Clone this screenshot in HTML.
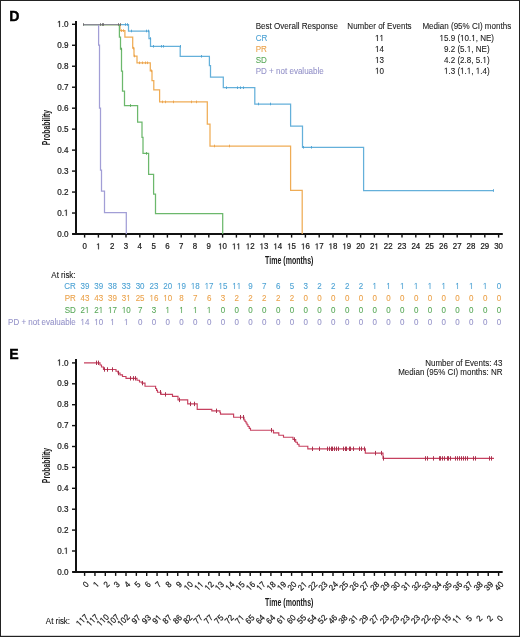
<!DOCTYPE html>
<html><head><meta charset="utf-8"><title>KM curves</title>
<style>
html,body{margin:0;padding:0;background:#fff;}
body{width:520px;height:637px;overflow:hidden;position:relative;font-family:"Liberation Sans", sans-serif;}
svg{position:absolute;left:0;top:0;will-change:transform;}
svg text{font-family:"Liberation Sans", sans-serif;stroke-width:0.08px;font-kerning:none;}
</style></head><body>
<svg width="520" height="637" viewBox="0 0 520 637">
<rect x="0" y="0" width="520" height="637" fill="#fff"/>
<rect x="0.5" y="0.5" width="519" height="636" fill="none" stroke="#222" stroke-width="1"/>
<rect x="0" y="635.8" width="520" height="1.2" fill="#222"/>

<text transform="translate(9.3,21.2) scale(0.93,1)" x="0" y="0" font-size="15.2" font-weight="bold" fill="#000" stroke="#000" style="stroke-width:0.4px">D</text>
<text transform="translate(9.2,359.3) scale(0.93,1)" x="0" y="0" font-size="15.2" font-weight="bold" fill="#000" stroke="#000" style="stroke-width:0.4px">E</text>
<line x1="76" y1="21" x2="76" y2="235.0" stroke="#111" stroke-width="2"/>
<line x1="72.2" y1="234.0" x2="502.8" y2="234.0" stroke="#111" stroke-width="2"/>
<line x1="72" y1="234.00" x2="76" y2="234.00" stroke="#111" stroke-width="1.4"/>
<text transform="translate(68.4,236.65) scale(1,1.08)" x="0" y="0" font-size="8.1" text-anchor="end" fill="#1a1a1a" stroke="#1a1a1a" style="stroke-width:0.2px">0.0</text>
<line x1="72" y1="213.03" x2="76" y2="213.03" stroke="#111" stroke-width="1.4"/>
<g transform="translate(68.4,215.68) scale(1,1.08)"><text x="0" y="0" font-size="8.1" text-anchor="end" fill="#1a1a1a" stroke="#1a1a1a" style="stroke-width:0.2px">0. </text><path transform="translate(-4.505,0) scale(0.003955,-0.003955)" d="M515 0V1237L197 1010V1180L530 1409H696V0Z" fill="#1a1a1a" stroke="#1a1a1a" stroke-width="50.6"/></g>
<line x1="72" y1="192.06" x2="76" y2="192.06" stroke="#111" stroke-width="1.4"/>
<text transform="translate(68.4,194.71) scale(1,1.08)" x="0" y="0" font-size="8.1" text-anchor="end" fill="#1a1a1a" stroke="#1a1a1a" style="stroke-width:0.2px">0.2</text>
<line x1="72" y1="171.09" x2="76" y2="171.09" stroke="#111" stroke-width="1.4"/>
<text transform="translate(68.4,173.74) scale(1,1.08)" x="0" y="0" font-size="8.1" text-anchor="end" fill="#1a1a1a" stroke="#1a1a1a" style="stroke-width:0.2px">0.3</text>
<line x1="72" y1="150.12" x2="76" y2="150.12" stroke="#111" stroke-width="1.4"/>
<text transform="translate(68.4,152.77) scale(1,1.08)" x="0" y="0" font-size="8.1" text-anchor="end" fill="#1a1a1a" stroke="#1a1a1a" style="stroke-width:0.2px">0.4</text>
<line x1="72" y1="129.15" x2="76" y2="129.15" stroke="#111" stroke-width="1.4"/>
<text transform="translate(68.4,131.80) scale(1,1.08)" x="0" y="0" font-size="8.1" text-anchor="end" fill="#1a1a1a" stroke="#1a1a1a" style="stroke-width:0.2px">0.5</text>
<line x1="72" y1="108.18" x2="76" y2="108.18" stroke="#111" stroke-width="1.4"/>
<text transform="translate(68.4,110.83) scale(1,1.08)" x="0" y="0" font-size="8.1" text-anchor="end" fill="#1a1a1a" stroke="#1a1a1a" style="stroke-width:0.2px">0.6</text>
<line x1="72" y1="87.21" x2="76" y2="87.21" stroke="#111" stroke-width="1.4"/>
<text transform="translate(68.4,89.86) scale(1,1.08)" x="0" y="0" font-size="8.1" text-anchor="end" fill="#1a1a1a" stroke="#1a1a1a" style="stroke-width:0.2px">0.7</text>
<line x1="72" y1="66.24" x2="76" y2="66.24" stroke="#111" stroke-width="1.4"/>
<text transform="translate(68.4,68.89) scale(1,1.08)" x="0" y="0" font-size="8.1" text-anchor="end" fill="#1a1a1a" stroke="#1a1a1a" style="stroke-width:0.2px">0.8</text>
<line x1="72" y1="45.27" x2="76" y2="45.27" stroke="#111" stroke-width="1.4"/>
<text transform="translate(68.4,47.92) scale(1,1.08)" x="0" y="0" font-size="8.1" text-anchor="end" fill="#1a1a1a" stroke="#1a1a1a" style="stroke-width:0.2px">0.9</text>
<line x1="72" y1="24.30" x2="76" y2="24.30" stroke="#111" stroke-width="1.4"/>
<g transform="translate(68.4,26.95) scale(1,1.08)"><text x="0" y="0" font-size="8.1" text-anchor="end" fill="#1a1a1a" stroke="#1a1a1a" style="stroke-width:0.2px"> .0</text><path transform="translate(-11.260,0) scale(0.003955,-0.003955)" d="M515 0V1237L197 1010V1180L530 1409H696V0Z" fill="#1a1a1a" stroke="#1a1a1a" stroke-width="50.6"/></g>
<line x1="84.60" y1="234.0" x2="84.60" y2="237.6" stroke="#111" stroke-width="1.4"/>
<line x1="98.40" y1="234.0" x2="98.40" y2="237.6" stroke="#111" stroke-width="1.4"/>
<line x1="112.20" y1="234.0" x2="112.20" y2="237.6" stroke="#111" stroke-width="1.4"/>
<line x1="126.00" y1="234.0" x2="126.00" y2="237.6" stroke="#111" stroke-width="1.4"/>
<line x1="139.80" y1="234.0" x2="139.80" y2="237.6" stroke="#111" stroke-width="1.4"/>
<line x1="153.60" y1="234.0" x2="153.60" y2="237.6" stroke="#111" stroke-width="1.4"/>
<line x1="167.40" y1="234.0" x2="167.40" y2="237.6" stroke="#111" stroke-width="1.4"/>
<line x1="181.20" y1="234.0" x2="181.20" y2="237.6" stroke="#111" stroke-width="1.4"/>
<line x1="195.00" y1="234.0" x2="195.00" y2="237.6" stroke="#111" stroke-width="1.4"/>
<line x1="208.80" y1="234.0" x2="208.80" y2="237.6" stroke="#111" stroke-width="1.4"/>
<line x1="222.60" y1="234.0" x2="222.60" y2="237.6" stroke="#111" stroke-width="1.4"/>
<line x1="236.40" y1="234.0" x2="236.40" y2="237.6" stroke="#111" stroke-width="1.4"/>
<line x1="250.20" y1="234.0" x2="250.20" y2="237.6" stroke="#111" stroke-width="1.4"/>
<line x1="264.00" y1="234.0" x2="264.00" y2="237.6" stroke="#111" stroke-width="1.4"/>
<line x1="277.80" y1="234.0" x2="277.80" y2="237.6" stroke="#111" stroke-width="1.4"/>
<line x1="291.60" y1="234.0" x2="291.60" y2="237.6" stroke="#111" stroke-width="1.4"/>
<line x1="305.40" y1="234.0" x2="305.40" y2="237.6" stroke="#111" stroke-width="1.4"/>
<line x1="319.20" y1="234.0" x2="319.20" y2="237.6" stroke="#111" stroke-width="1.4"/>
<line x1="333.00" y1="234.0" x2="333.00" y2="237.6" stroke="#111" stroke-width="1.4"/>
<line x1="346.80" y1="234.0" x2="346.80" y2="237.6" stroke="#111" stroke-width="1.4"/>
<line x1="360.60" y1="234.0" x2="360.60" y2="237.6" stroke="#111" stroke-width="1.4"/>
<line x1="374.40" y1="234.0" x2="374.40" y2="237.6" stroke="#111" stroke-width="1.4"/>
<line x1="388.20" y1="234.0" x2="388.20" y2="237.6" stroke="#111" stroke-width="1.4"/>
<line x1="402.00" y1="234.0" x2="402.00" y2="237.6" stroke="#111" stroke-width="1.4"/>
<line x1="415.80" y1="234.0" x2="415.80" y2="237.6" stroke="#111" stroke-width="1.4"/>
<line x1="429.60" y1="234.0" x2="429.60" y2="237.6" stroke="#111" stroke-width="1.4"/>
<line x1="443.40" y1="234.0" x2="443.40" y2="237.6" stroke="#111" stroke-width="1.4"/>
<line x1="457.20" y1="234.0" x2="457.20" y2="237.6" stroke="#111" stroke-width="1.4"/>
<line x1="471.00" y1="234.0" x2="471.00" y2="237.6" stroke="#111" stroke-width="1.4"/>
<line x1="484.80" y1="234.0" x2="484.80" y2="237.6" stroke="#111" stroke-width="1.4"/>
<line x1="498.60" y1="234.0" x2="498.60" y2="237.6" stroke="#111" stroke-width="1.4"/>
<text transform="translate(84.60,249.3) scale(1,1.08)" x="0" y="0" font-size="7.9" text-anchor="middle" fill="#1a1a1a" stroke="#1a1a1a" style="stroke-width:0.2px">0</text>
<g transform="translate(98.40,249.3) scale(1,1.08)"><text x="0" y="0" font-size="7.9" text-anchor="middle" fill="#1a1a1a" stroke="#1a1a1a" style="stroke-width:0.2px"> </text><path transform="translate(-2.197,0) scale(0.003857,-0.003857)" d="M515 0V1237L197 1010V1180L530 1409H696V0Z" fill="#1a1a1a" stroke="#1a1a1a" stroke-width="51.8"/></g>
<text transform="translate(112.20,249.3) scale(1,1.08)" x="0" y="0" font-size="7.9" text-anchor="middle" fill="#1a1a1a" stroke="#1a1a1a" style="stroke-width:0.2px">2</text>
<text transform="translate(126.00,249.3) scale(1,1.08)" x="0" y="0" font-size="7.9" text-anchor="middle" fill="#1a1a1a" stroke="#1a1a1a" style="stroke-width:0.2px">3</text>
<text transform="translate(139.80,249.3) scale(1,1.08)" x="0" y="0" font-size="7.9" text-anchor="middle" fill="#1a1a1a" stroke="#1a1a1a" style="stroke-width:0.2px">4</text>
<text transform="translate(153.60,249.3) scale(1,1.08)" x="0" y="0" font-size="7.9" text-anchor="middle" fill="#1a1a1a" stroke="#1a1a1a" style="stroke-width:0.2px">5</text>
<text transform="translate(167.40,249.3) scale(1,1.08)" x="0" y="0" font-size="7.9" text-anchor="middle" fill="#1a1a1a" stroke="#1a1a1a" style="stroke-width:0.2px">6</text>
<text transform="translate(181.20,249.3) scale(1,1.08)" x="0" y="0" font-size="7.9" text-anchor="middle" fill="#1a1a1a" stroke="#1a1a1a" style="stroke-width:0.2px">7</text>
<text transform="translate(195.00,249.3) scale(1,1.08)" x="0" y="0" font-size="7.9" text-anchor="middle" fill="#1a1a1a" stroke="#1a1a1a" style="stroke-width:0.2px">8</text>
<text transform="translate(208.80,249.3) scale(1,1.08)" x="0" y="0" font-size="7.9" text-anchor="middle" fill="#1a1a1a" stroke="#1a1a1a" style="stroke-width:0.2px">9</text>
<g transform="translate(222.60,249.3) scale(1,1.08)"><text x="0" y="0" font-size="7.9" text-anchor="middle" fill="#1a1a1a" stroke="#1a1a1a" style="stroke-width:0.2px"> 0</text><path transform="translate(-4.394,0) scale(0.003857,-0.003857)" d="M515 0V1237L197 1010V1180L530 1409H696V0Z" fill="#1a1a1a" stroke="#1a1a1a" stroke-width="51.8"/></g>
<g transform="translate(236.40,249.3) scale(1,1.08)"><text x="0" y="0" font-size="7.9" text-anchor="middle" fill="#1a1a1a" stroke="#1a1a1a" style="stroke-width:0.2px">  </text><path transform="translate(-4.394,0) scale(0.003857,-0.003857)" d="M515 0V1237L197 1010V1180L530 1409H696V0Z" fill="#1a1a1a" stroke="#1a1a1a" stroke-width="51.8"/><path transform="translate(0.000,0) scale(0.003857,-0.003857)" d="M515 0V1237L197 1010V1180L530 1409H696V0Z" fill="#1a1a1a" stroke="#1a1a1a" stroke-width="51.8"/></g>
<g transform="translate(250.20,249.3) scale(1,1.08)"><text x="0" y="0" font-size="7.9" text-anchor="middle" fill="#1a1a1a" stroke="#1a1a1a" style="stroke-width:0.2px"> 2</text><path transform="translate(-4.394,0) scale(0.003857,-0.003857)" d="M515 0V1237L197 1010V1180L530 1409H696V0Z" fill="#1a1a1a" stroke="#1a1a1a" stroke-width="51.8"/></g>
<g transform="translate(264.00,249.3) scale(1,1.08)"><text x="0" y="0" font-size="7.9" text-anchor="middle" fill="#1a1a1a" stroke="#1a1a1a" style="stroke-width:0.2px"> 3</text><path transform="translate(-4.394,0) scale(0.003857,-0.003857)" d="M515 0V1237L197 1010V1180L530 1409H696V0Z" fill="#1a1a1a" stroke="#1a1a1a" stroke-width="51.8"/></g>
<g transform="translate(277.80,249.3) scale(1,1.08)"><text x="0" y="0" font-size="7.9" text-anchor="middle" fill="#1a1a1a" stroke="#1a1a1a" style="stroke-width:0.2px"> 4</text><path transform="translate(-4.394,0) scale(0.003857,-0.003857)" d="M515 0V1237L197 1010V1180L530 1409H696V0Z" fill="#1a1a1a" stroke="#1a1a1a" stroke-width="51.8"/></g>
<g transform="translate(291.60,249.3) scale(1,1.08)"><text x="0" y="0" font-size="7.9" text-anchor="middle" fill="#1a1a1a" stroke="#1a1a1a" style="stroke-width:0.2px"> 5</text><path transform="translate(-4.394,0) scale(0.003857,-0.003857)" d="M515 0V1237L197 1010V1180L530 1409H696V0Z" fill="#1a1a1a" stroke="#1a1a1a" stroke-width="51.8"/></g>
<g transform="translate(305.40,249.3) scale(1,1.08)"><text x="0" y="0" font-size="7.9" text-anchor="middle" fill="#1a1a1a" stroke="#1a1a1a" style="stroke-width:0.2px"> 6</text><path transform="translate(-4.394,0) scale(0.003857,-0.003857)" d="M515 0V1237L197 1010V1180L530 1409H696V0Z" fill="#1a1a1a" stroke="#1a1a1a" stroke-width="51.8"/></g>
<g transform="translate(319.20,249.3) scale(1,1.08)"><text x="0" y="0" font-size="7.9" text-anchor="middle" fill="#1a1a1a" stroke="#1a1a1a" style="stroke-width:0.2px"> 7</text><path transform="translate(-4.394,0) scale(0.003857,-0.003857)" d="M515 0V1237L197 1010V1180L530 1409H696V0Z" fill="#1a1a1a" stroke="#1a1a1a" stroke-width="51.8"/></g>
<g transform="translate(333.00,249.3) scale(1,1.08)"><text x="0" y="0" font-size="7.9" text-anchor="middle" fill="#1a1a1a" stroke="#1a1a1a" style="stroke-width:0.2px"> 8</text><path transform="translate(-4.394,0) scale(0.003857,-0.003857)" d="M515 0V1237L197 1010V1180L530 1409H696V0Z" fill="#1a1a1a" stroke="#1a1a1a" stroke-width="51.8"/></g>
<g transform="translate(346.80,249.3) scale(1,1.08)"><text x="0" y="0" font-size="7.9" text-anchor="middle" fill="#1a1a1a" stroke="#1a1a1a" style="stroke-width:0.2px"> 9</text><path transform="translate(-4.394,0) scale(0.003857,-0.003857)" d="M515 0V1237L197 1010V1180L530 1409H696V0Z" fill="#1a1a1a" stroke="#1a1a1a" stroke-width="51.8"/></g>
<text transform="translate(360.60,249.3) scale(1,1.08)" x="0" y="0" font-size="7.9" text-anchor="middle" fill="#1a1a1a" stroke="#1a1a1a" style="stroke-width:0.2px">20</text>
<g transform="translate(374.40,249.3) scale(1,1.08)"><text x="0" y="0" font-size="7.9" text-anchor="middle" fill="#1a1a1a" stroke="#1a1a1a" style="stroke-width:0.2px">2 </text><path transform="translate(0.000,0) scale(0.003857,-0.003857)" d="M515 0V1237L197 1010V1180L530 1409H696V0Z" fill="#1a1a1a" stroke="#1a1a1a" stroke-width="51.8"/></g>
<text transform="translate(388.20,249.3) scale(1,1.08)" x="0" y="0" font-size="7.9" text-anchor="middle" fill="#1a1a1a" stroke="#1a1a1a" style="stroke-width:0.2px">22</text>
<text transform="translate(402.00,249.3) scale(1,1.08)" x="0" y="0" font-size="7.9" text-anchor="middle" fill="#1a1a1a" stroke="#1a1a1a" style="stroke-width:0.2px">23</text>
<text transform="translate(415.80,249.3) scale(1,1.08)" x="0" y="0" font-size="7.9" text-anchor="middle" fill="#1a1a1a" stroke="#1a1a1a" style="stroke-width:0.2px">24</text>
<text transform="translate(429.60,249.3) scale(1,1.08)" x="0" y="0" font-size="7.9" text-anchor="middle" fill="#1a1a1a" stroke="#1a1a1a" style="stroke-width:0.2px">25</text>
<text transform="translate(443.40,249.3) scale(1,1.08)" x="0" y="0" font-size="7.9" text-anchor="middle" fill="#1a1a1a" stroke="#1a1a1a" style="stroke-width:0.2px">26</text>
<text transform="translate(457.20,249.3) scale(1,1.08)" x="0" y="0" font-size="7.9" text-anchor="middle" fill="#1a1a1a" stroke="#1a1a1a" style="stroke-width:0.2px">27</text>
<text transform="translate(471.00,249.3) scale(1,1.08)" x="0" y="0" font-size="7.9" text-anchor="middle" fill="#1a1a1a" stroke="#1a1a1a" style="stroke-width:0.2px">28</text>
<text transform="translate(484.80,249.3) scale(1,1.08)" x="0" y="0" font-size="7.9" text-anchor="middle" fill="#1a1a1a" stroke="#1a1a1a" style="stroke-width:0.2px">29</text>
<text transform="translate(498.60,249.3) scale(1,1.08)" x="0" y="0" font-size="7.9" text-anchor="middle" fill="#1a1a1a" stroke="#1a1a1a" style="stroke-width:0.2px">30</text>
<text transform="translate(289.2,264.3) scale(0.683,1)" x="0" y="0" font-size="10.3" font-weight="bold" text-anchor="middle" fill="#1a1a1a" stroke="#1a1a1a" style="stroke-width:0px">Time (months)</text>
<text transform="translate(49.6,127.5) rotate(-90) scale(0.645,1)" x="0" y="0" font-size="10.6" font-weight="bold" text-anchor="middle" fill="#1a1a1a" stroke="#1a1a1a" style="stroke-width:0px">Probability</text>
<path d="M83.5,24.5 H128.5 V31 H149 V38.5 H150.5 V46.3 H180.2 V56.3 H209.4 V65.6 H210.5 V77.1 H223.3 V87.7 H254.8 V104 H290.6 V126.2 H302.5 V147.3 H363.6 V190.5 H493.3" fill="none" stroke="#64b0da" stroke-width="1.25"/>
<path d="M83.5,24.5 H120 V30.6 H124.9 V37.2 H132.7 V48.2 H134 V56 H137 V62.8 H150.3 V70.8 H152 V80.7 H153.8 V89.8 H159.6 V101.9 H207.3 V124 H210 V146 H290.6 V190.4 H302.2 V234" fill="none" stroke="#efac55" stroke-width="1.25"/>
<path d="M83.5,24.5 H119.4 V37.2 H120.5 V49 H121.5 V71 H122.5 V91 H124.5 V105.5 H137.6 V122 H142 V137.4 H143 V153.4 H148.6 V174.3 H153.6 V194 H155.5 V213.7 H222.7 V234" fill="none" stroke="#6cb86c" stroke-width="1.25"/>
<path d="M83.5,24.5 H98.6 V45 H99.5 V108 H100.5 V170 H101.5 V191 H104.5 V212.5 H126.3 V234" fill="none" stroke="#a29ed6" stroke-width="1.25"/>
<line x1="83.5" y1="24.5" x2="120" y2="24.5" stroke="#8a8a94" stroke-width="1.2"/>
<line x1="83.5" y1="23.20" x2="83.5" y2="25.80" stroke="#6a6a6a" stroke-width="0.9"/><line x1="100.5" y1="23.20" x2="100.5" y2="25.80" stroke="#6a6a6a" stroke-width="0.9"/><line x1="102.5" y1="23.20" x2="102.5" y2="25.80" stroke="#6a6a6a" stroke-width="0.9"/><line x1="103.5" y1="23.20" x2="103.5" y2="25.80" stroke="#6a6a6a" stroke-width="0.9"/><line x1="118.5" y1="23.20" x2="118.5" y2="25.80" stroke="#6a6a6a" stroke-width="0.9"/><line x1="120.5" y1="23.20" x2="120.5" y2="25.80" stroke="#6a6a6a" stroke-width="0.9"/>
<line x1="125.5" y1="23.20" x2="125.5" y2="25.80" stroke="#4ca2d4" stroke-width="0.9"/><line x1="127.5" y1="23.20" x2="127.5" y2="25.80" stroke="#4ca2d4" stroke-width="0.9"/><line x1="131.5" y1="29.70" x2="131.5" y2="32.30" stroke="#4ca2d4" stroke-width="0.9"/><line x1="146.5" y1="29.70" x2="146.5" y2="32.30" stroke="#4ca2d4" stroke-width="0.9"/><line x1="148.5" y1="29.70" x2="148.5" y2="32.30" stroke="#4ca2d4" stroke-width="0.9"/><line x1="150.5" y1="37.20" x2="150.5" y2="39.80" stroke="#4ca2d4" stroke-width="0.9"/><line x1="153.5" y1="45.00" x2="153.5" y2="47.60" stroke="#4ca2d4" stroke-width="0.9"/><line x1="161.5" y1="45.00" x2="161.5" y2="47.60" stroke="#4ca2d4" stroke-width="0.9"/><line x1="163.5" y1="45.00" x2="163.5" y2="47.60" stroke="#4ca2d4" stroke-width="0.9"/><line x1="180.5" y1="45.00" x2="180.5" y2="47.60" stroke="#4ca2d4" stroke-width="0.9"/><line x1="201.5" y1="55.00" x2="201.5" y2="57.60" stroke="#4ca2d4" stroke-width="0.9"/><line x1="226.5" y1="86.40" x2="226.5" y2="89.00" stroke="#4ca2d4" stroke-width="0.9"/><line x1="237.5" y1="86.40" x2="237.5" y2="89.00" stroke="#4ca2d4" stroke-width="0.9"/><line x1="240.5" y1="86.40" x2="240.5" y2="89.00" stroke="#4ca2d4" stroke-width="0.9"/><line x1="243.5" y1="86.40" x2="243.5" y2="89.00" stroke="#4ca2d4" stroke-width="0.9"/><line x1="258.5" y1="102.70" x2="258.5" y2="105.30" stroke="#4ca2d4" stroke-width="0.9"/><line x1="270.5" y1="102.70" x2="270.5" y2="105.30" stroke="#4ca2d4" stroke-width="0.9"/><line x1="303.5" y1="146.00" x2="303.5" y2="148.60" stroke="#4ca2d4" stroke-width="0.9"/><line x1="311.5" y1="146.00" x2="311.5" y2="148.60" stroke="#4ca2d4" stroke-width="0.9"/><line x1="493.5" y1="189.20" x2="493.5" y2="191.80" stroke="#4ca2d4" stroke-width="0.9"/>
<line x1="121.5" y1="29.30" x2="121.5" y2="31.90" stroke="#eba24a" stroke-width="0.9"/><line x1="123.5" y1="29.30" x2="123.5" y2="31.90" stroke="#eba24a" stroke-width="0.9"/><line x1="133.5" y1="46.90" x2="133.5" y2="49.50" stroke="#eba24a" stroke-width="0.9"/><line x1="134.5" y1="54.70" x2="134.5" y2="57.30" stroke="#eba24a" stroke-width="0.9"/><line x1="139.5" y1="61.50" x2="139.5" y2="64.10" stroke="#eba24a" stroke-width="0.9"/><line x1="142.5" y1="61.50" x2="142.5" y2="64.10" stroke="#eba24a" stroke-width="0.9"/><line x1="145.5" y1="61.50" x2="145.5" y2="64.10" stroke="#eba24a" stroke-width="0.9"/><line x1="147.5" y1="61.50" x2="147.5" y2="64.10" stroke="#eba24a" stroke-width="0.9"/><line x1="151.5" y1="69.50" x2="151.5" y2="72.10" stroke="#eba24a" stroke-width="0.9"/><line x1="162.5" y1="100.60" x2="162.5" y2="103.20" stroke="#eba24a" stroke-width="0.9"/><line x1="165.5" y1="100.60" x2="165.5" y2="103.20" stroke="#eba24a" stroke-width="0.9"/><line x1="173.5" y1="100.60" x2="173.5" y2="103.20" stroke="#eba24a" stroke-width="0.9"/><line x1="191.5" y1="100.60" x2="191.5" y2="103.20" stroke="#eba24a" stroke-width="0.9"/><line x1="196.5" y1="100.60" x2="196.5" y2="103.20" stroke="#eba24a" stroke-width="0.9"/><line x1="214.5" y1="144.70" x2="214.5" y2="147.30" stroke="#eba24a" stroke-width="0.9"/><line x1="229.5" y1="144.70" x2="229.5" y2="147.30" stroke="#eba24a" stroke-width="0.9"/>
<line x1="121.5" y1="47.70" x2="121.5" y2="50.30" stroke="#58a858" stroke-width="0.9"/><line x1="130.5" y1="104.20" x2="130.5" y2="106.80" stroke="#58a858" stroke-width="0.9"/><line x1="146.5" y1="152.10" x2="146.5" y2="154.70" stroke="#58a858" stroke-width="0.9"/>
<text transform="translate(255.7,29.2) scale(1,1.08)" x="0" y="0" font-size="8.05" fill="#1a1a1a" stroke="#1a1a1a">Best Overall Response</text>
<text transform="translate(379.5,29.2) scale(1,1.08)" x="0" y="0" font-size="8.05" text-anchor="middle" fill="#1a1a1a" stroke="#1a1a1a">Number of Events</text>
<text transform="translate(466.8,29.2) scale(1,1.08)" x="0" y="0" font-size="8.05" text-anchor="middle" fill="#1a1a1a" stroke="#1a1a1a">Median (95% CI) months</text>
<text transform="translate(255.7,41.00) scale(1,1.08)" x="0" y="0" font-size="8.05" fill="#4ca2d4" stroke="#4ca2d4">CR</text>
<g transform="translate(379.5,41.00) scale(1,1.08)"><text x="0" y="0" font-size="8.05" text-anchor="middle" fill="#1a1a1a" stroke="#1a1a1a">  </text><path transform="translate(-4.477,0) scale(0.003931,-0.003931)" d="M515 0V1237L197 1010V1180L530 1409H696V0Z" fill="#1a1a1a" stroke="#1a1a1a" stroke-width="20.4"/><path transform="translate(0.000,0) scale(0.003931,-0.003931)" d="M515 0V1237L197 1010V1180L530 1409H696V0Z" fill="#1a1a1a" stroke="#1a1a1a" stroke-width="20.4"/></g>
<g transform="translate(466.8,41.00) scale(1,1.08)"><text x="0" y="0" font-size="8.05" text-anchor="middle" fill="#1a1a1a" stroke="#1a1a1a"> 5.9 ( 0. , NE)</text><path transform="translate(-27.295,0) scale(0.003931,-0.003931)" d="M515 0V1237L197 1010V1180L530 1409H696V0Z" fill="#1a1a1a" stroke="#1a1a1a" stroke-width="20.4"/><path transform="translate(-6.710,0) scale(0.003931,-0.003931)" d="M515 0V1237L197 1010V1180L530 1409H696V0Z" fill="#1a1a1a" stroke="#1a1a1a" stroke-width="20.4"/><path transform="translate(4.481,0) scale(0.003931,-0.003931)" d="M515 0V1237L197 1010V1180L530 1409H696V0Z" fill="#1a1a1a" stroke="#1a1a1a" stroke-width="20.4"/></g>
<text transform="translate(255.7,51.95) scale(1,1.08)" x="0" y="0" font-size="8.05" fill="#eba24a" stroke="#eba24a">PR</text>
<g transform="translate(379.5,51.95) scale(1,1.08)"><text x="0" y="0" font-size="8.05" text-anchor="middle" fill="#1a1a1a" stroke="#1a1a1a"> 4</text><path transform="translate(-4.477,0) scale(0.003931,-0.003931)" d="M515 0V1237L197 1010V1180L530 1409H696V0Z" fill="#1a1a1a" stroke="#1a1a1a" stroke-width="20.4"/></g>
<g transform="translate(466.8,51.95) scale(1,1.08)"><text x="0" y="0" font-size="8.05" text-anchor="middle" fill="#1a1a1a" stroke="#1a1a1a">9.2 (5. , NE)</text><path transform="translate(0.004,0) scale(0.003931,-0.003931)" d="M515 0V1237L197 1010V1180L530 1409H696V0Z" fill="#1a1a1a" stroke="#1a1a1a" stroke-width="20.4"/></g>
<text transform="translate(255.7,62.90) scale(1,1.08)" x="0" y="0" font-size="8.05" fill="#58a858" stroke="#58a858">SD</text>
<g transform="translate(379.5,62.90) scale(1,1.08)"><text x="0" y="0" font-size="8.05" text-anchor="middle" fill="#1a1a1a" stroke="#1a1a1a"> 3</text><path transform="translate(-4.477,0) scale(0.003931,-0.003931)" d="M515 0V1237L197 1010V1180L530 1409H696V0Z" fill="#1a1a1a" stroke="#1a1a1a" stroke-width="20.4"/></g>
<g transform="translate(466.8,62.90) scale(1,1.08)"><text x="0" y="0" font-size="8.05" text-anchor="middle" fill="#1a1a1a" stroke="#1a1a1a">4.2 (2.8, 5. )</text><path transform="translate(15.664,0) scale(0.003931,-0.003931)" d="M515 0V1237L197 1010V1180L530 1409H696V0Z" fill="#1a1a1a" stroke="#1a1a1a" stroke-width="20.4"/></g>
<text transform="translate(255.7,73.85) scale(1,1.08)" x="0" y="0" font-size="8.05" fill="#9593c9" stroke="#9593c9">PD + not evaluable</text>
<g transform="translate(379.5,73.85) scale(1,1.08)"><text x="0" y="0" font-size="8.05" text-anchor="middle" fill="#1a1a1a" stroke="#1a1a1a"> 0</text><path transform="translate(-4.477,0) scale(0.003931,-0.003931)" d="M515 0V1237L197 1010V1180L530 1409H696V0Z" fill="#1a1a1a" stroke="#1a1a1a" stroke-width="20.4"/></g>
<g transform="translate(466.8,73.85) scale(1,1.08)"><text x="0" y="0" font-size="8.05" text-anchor="middle" fill="#1a1a1a" stroke="#1a1a1a"> .3 ( . ,  .4)</text><path transform="translate(-22.821,0) scale(0.003931,-0.003931)" d="M515 0V1237L197 1010V1180L530 1409H696V0Z" fill="#1a1a1a" stroke="#1a1a1a" stroke-width="20.4"/><path transform="translate(-6.714,0) scale(0.003931,-0.003931)" d="M515 0V1237L197 1010V1180L530 1409H696V0Z" fill="#1a1a1a" stroke="#1a1a1a" stroke-width="20.4"/><path transform="translate(0.000,0) scale(0.003931,-0.003931)" d="M515 0V1237L197 1010V1180L530 1409H696V0Z" fill="#1a1a1a" stroke="#1a1a1a" stroke-width="20.4"/><path transform="translate(8.950,0) scale(0.003931,-0.003931)" d="M515 0V1237L197 1010V1180L530 1409H696V0Z" fill="#1a1a1a" stroke="#1a1a1a" stroke-width="20.4"/></g>
<text transform="translate(75.5,278.4) scale(1,1.08)" x="0" y="0" font-size="7.9" text-anchor="end" fill="#111" stroke="#111">At risk:</text>
<text transform="translate(75.8,288.90) scale(1,1.08)" x="0" y="0" font-size="8.0" text-anchor="end" fill="#4ca2d4" stroke="#4ca2d4">CR</text>
<text transform="translate(84.90,288.90) scale(1,1.08)" x="0" y="0" font-size="8.0" text-anchor="middle" fill="#4ca2d4" stroke="#4ca2d4">39</text><text transform="translate(98.70,288.90) scale(1,1.08)" x="0" y="0" font-size="8.0" text-anchor="middle" fill="#4ca2d4" stroke="#4ca2d4">39</text><text transform="translate(112.50,288.90) scale(1,1.08)" x="0" y="0" font-size="8.0" text-anchor="middle" fill="#4ca2d4" stroke="#4ca2d4">38</text><text transform="translate(126.30,288.90) scale(1,1.08)" x="0" y="0" font-size="8.0" text-anchor="middle" fill="#4ca2d4" stroke="#4ca2d4">33</text><text transform="translate(140.10,288.90) scale(1,1.08)" x="0" y="0" font-size="8.0" text-anchor="middle" fill="#4ca2d4" stroke="#4ca2d4">30</text><text transform="translate(153.90,288.90) scale(1,1.08)" x="0" y="0" font-size="8.0" text-anchor="middle" fill="#4ca2d4" stroke="#4ca2d4">23</text><text transform="translate(167.70,288.90) scale(1,1.08)" x="0" y="0" font-size="8.0" text-anchor="middle" fill="#4ca2d4" stroke="#4ca2d4">20</text><g transform="translate(181.50,288.90) scale(1,1.08)"><text x="0" y="0" font-size="8.0" text-anchor="middle" fill="#4ca2d4" stroke="#4ca2d4"> 9</text><path transform="translate(-4.449,0) scale(0.003906,-0.003906)" d="M515 0V1237L197 1010V1180L530 1409H696V0Z" fill="#4ca2d4" stroke="#4ca2d4" stroke-width="20.5"/></g><g transform="translate(195.30,288.90) scale(1,1.08)"><text x="0" y="0" font-size="8.0" text-anchor="middle" fill="#4ca2d4" stroke="#4ca2d4"> 8</text><path transform="translate(-4.449,0) scale(0.003906,-0.003906)" d="M515 0V1237L197 1010V1180L530 1409H696V0Z" fill="#4ca2d4" stroke="#4ca2d4" stroke-width="20.5"/></g><g transform="translate(209.10,288.90) scale(1,1.08)"><text x="0" y="0" font-size="8.0" text-anchor="middle" fill="#4ca2d4" stroke="#4ca2d4"> 7</text><path transform="translate(-4.449,0) scale(0.003906,-0.003906)" d="M515 0V1237L197 1010V1180L530 1409H696V0Z" fill="#4ca2d4" stroke="#4ca2d4" stroke-width="20.5"/></g><g transform="translate(222.90,288.90) scale(1,1.08)"><text x="0" y="0" font-size="8.0" text-anchor="middle" fill="#4ca2d4" stroke="#4ca2d4"> 5</text><path transform="translate(-4.449,0) scale(0.003906,-0.003906)" d="M515 0V1237L197 1010V1180L530 1409H696V0Z" fill="#4ca2d4" stroke="#4ca2d4" stroke-width="20.5"/></g><g transform="translate(236.70,288.90) scale(1,1.08)"><text x="0" y="0" font-size="8.0" text-anchor="middle" fill="#4ca2d4" stroke="#4ca2d4">  </text><path transform="translate(-4.449,0) scale(0.003906,-0.003906)" d="M515 0V1237L197 1010V1180L530 1409H696V0Z" fill="#4ca2d4" stroke="#4ca2d4" stroke-width="20.5"/><path transform="translate(0.000,0) scale(0.003906,-0.003906)" d="M515 0V1237L197 1010V1180L530 1409H696V0Z" fill="#4ca2d4" stroke="#4ca2d4" stroke-width="20.5"/></g><text transform="translate(250.50,288.90) scale(1,1.08)" x="0" y="0" font-size="8.0" text-anchor="middle" fill="#4ca2d4" stroke="#4ca2d4">9</text><text transform="translate(264.30,288.90) scale(1,1.08)" x="0" y="0" font-size="8.0" text-anchor="middle" fill="#4ca2d4" stroke="#4ca2d4">7</text><text transform="translate(278.10,288.90) scale(1,1.08)" x="0" y="0" font-size="8.0" text-anchor="middle" fill="#4ca2d4" stroke="#4ca2d4">6</text><text transform="translate(291.90,288.90) scale(1,1.08)" x="0" y="0" font-size="8.0" text-anchor="middle" fill="#4ca2d4" stroke="#4ca2d4">5</text><text transform="translate(305.70,288.90) scale(1,1.08)" x="0" y="0" font-size="8.0" text-anchor="middle" fill="#4ca2d4" stroke="#4ca2d4">3</text><text transform="translate(319.50,288.90) scale(1,1.08)" x="0" y="0" font-size="8.0" text-anchor="middle" fill="#4ca2d4" stroke="#4ca2d4">2</text><text transform="translate(333.30,288.90) scale(1,1.08)" x="0" y="0" font-size="8.0" text-anchor="middle" fill="#4ca2d4" stroke="#4ca2d4">2</text><text transform="translate(347.10,288.90) scale(1,1.08)" x="0" y="0" font-size="8.0" text-anchor="middle" fill="#4ca2d4" stroke="#4ca2d4">2</text><text transform="translate(360.90,288.90) scale(1,1.08)" x="0" y="0" font-size="8.0" text-anchor="middle" fill="#4ca2d4" stroke="#4ca2d4">2</text><g transform="translate(374.70,288.90) scale(1,1.08)"><text x="0" y="0" font-size="8.0" text-anchor="middle" fill="#4ca2d4" stroke="#4ca2d4"> </text><path transform="translate(-2.225,0) scale(0.003906,-0.003906)" d="M515 0V1237L197 1010V1180L530 1409H696V0Z" fill="#4ca2d4" stroke="#4ca2d4" stroke-width="20.5"/></g><g transform="translate(388.50,288.90) scale(1,1.08)"><text x="0" y="0" font-size="8.0" text-anchor="middle" fill="#4ca2d4" stroke="#4ca2d4"> </text><path transform="translate(-2.225,0) scale(0.003906,-0.003906)" d="M515 0V1237L197 1010V1180L530 1409H696V0Z" fill="#4ca2d4" stroke="#4ca2d4" stroke-width="20.5"/></g><g transform="translate(402.30,288.90) scale(1,1.08)"><text x="0" y="0" font-size="8.0" text-anchor="middle" fill="#4ca2d4" stroke="#4ca2d4"> </text><path transform="translate(-2.225,0) scale(0.003906,-0.003906)" d="M515 0V1237L197 1010V1180L530 1409H696V0Z" fill="#4ca2d4" stroke="#4ca2d4" stroke-width="20.5"/></g><g transform="translate(416.10,288.90) scale(1,1.08)"><text x="0" y="0" font-size="8.0" text-anchor="middle" fill="#4ca2d4" stroke="#4ca2d4"> </text><path transform="translate(-2.225,0) scale(0.003906,-0.003906)" d="M515 0V1237L197 1010V1180L530 1409H696V0Z" fill="#4ca2d4" stroke="#4ca2d4" stroke-width="20.5"/></g><g transform="translate(429.90,288.90) scale(1,1.08)"><text x="0" y="0" font-size="8.0" text-anchor="middle" fill="#4ca2d4" stroke="#4ca2d4"> </text><path transform="translate(-2.225,0) scale(0.003906,-0.003906)" d="M515 0V1237L197 1010V1180L530 1409H696V0Z" fill="#4ca2d4" stroke="#4ca2d4" stroke-width="20.5"/></g><g transform="translate(443.70,288.90) scale(1,1.08)"><text x="0" y="0" font-size="8.0" text-anchor="middle" fill="#4ca2d4" stroke="#4ca2d4"> </text><path transform="translate(-2.225,0) scale(0.003906,-0.003906)" d="M515 0V1237L197 1010V1180L530 1409H696V0Z" fill="#4ca2d4" stroke="#4ca2d4" stroke-width="20.5"/></g><g transform="translate(457.50,288.90) scale(1,1.08)"><text x="0" y="0" font-size="8.0" text-anchor="middle" fill="#4ca2d4" stroke="#4ca2d4"> </text><path transform="translate(-2.225,0) scale(0.003906,-0.003906)" d="M515 0V1237L197 1010V1180L530 1409H696V0Z" fill="#4ca2d4" stroke="#4ca2d4" stroke-width="20.5"/></g><g transform="translate(471.30,288.90) scale(1,1.08)"><text x="0" y="0" font-size="8.0" text-anchor="middle" fill="#4ca2d4" stroke="#4ca2d4"> </text><path transform="translate(-2.225,0) scale(0.003906,-0.003906)" d="M515 0V1237L197 1010V1180L530 1409H696V0Z" fill="#4ca2d4" stroke="#4ca2d4" stroke-width="20.5"/></g><g transform="translate(485.10,288.90) scale(1,1.08)"><text x="0" y="0" font-size="8.0" text-anchor="middle" fill="#4ca2d4" stroke="#4ca2d4"> </text><path transform="translate(-2.225,0) scale(0.003906,-0.003906)" d="M515 0V1237L197 1010V1180L530 1409H696V0Z" fill="#4ca2d4" stroke="#4ca2d4" stroke-width="20.5"/></g><text transform="translate(498.90,288.90) scale(1,1.08)" x="0" y="0" font-size="8.0" text-anchor="middle" fill="#4ca2d4" stroke="#4ca2d4">0</text>
<text transform="translate(75.8,300.93) scale(1,1.08)" x="0" y="0" font-size="8.0" text-anchor="end" fill="#eba24a" stroke="#eba24a">PR</text>
<text transform="translate(84.90,300.93) scale(1,1.08)" x="0" y="0" font-size="8.0" text-anchor="middle" fill="#eba24a" stroke="#eba24a">43</text><text transform="translate(98.70,300.93) scale(1,1.08)" x="0" y="0" font-size="8.0" text-anchor="middle" fill="#eba24a" stroke="#eba24a">43</text><text transform="translate(112.50,300.93) scale(1,1.08)" x="0" y="0" font-size="8.0" text-anchor="middle" fill="#eba24a" stroke="#eba24a">39</text><g transform="translate(126.30,300.93) scale(1,1.08)"><text x="0" y="0" font-size="8.0" text-anchor="middle" fill="#eba24a" stroke="#eba24a">3 </text><path transform="translate(0.000,0) scale(0.003906,-0.003906)" d="M515 0V1237L197 1010V1180L530 1409H696V0Z" fill="#eba24a" stroke="#eba24a" stroke-width="20.5"/></g><text transform="translate(140.10,300.93) scale(1,1.08)" x="0" y="0" font-size="8.0" text-anchor="middle" fill="#eba24a" stroke="#eba24a">25</text><g transform="translate(153.90,300.93) scale(1,1.08)"><text x="0" y="0" font-size="8.0" text-anchor="middle" fill="#eba24a" stroke="#eba24a"> 6</text><path transform="translate(-4.449,0) scale(0.003906,-0.003906)" d="M515 0V1237L197 1010V1180L530 1409H696V0Z" fill="#eba24a" stroke="#eba24a" stroke-width="20.5"/></g><g transform="translate(167.70,300.93) scale(1,1.08)"><text x="0" y="0" font-size="8.0" text-anchor="middle" fill="#eba24a" stroke="#eba24a"> 0</text><path transform="translate(-4.449,0) scale(0.003906,-0.003906)" d="M515 0V1237L197 1010V1180L530 1409H696V0Z" fill="#eba24a" stroke="#eba24a" stroke-width="20.5"/></g><text transform="translate(181.50,300.93) scale(1,1.08)" x="0" y="0" font-size="8.0" text-anchor="middle" fill="#eba24a" stroke="#eba24a">8</text><text transform="translate(195.30,300.93) scale(1,1.08)" x="0" y="0" font-size="8.0" text-anchor="middle" fill="#eba24a" stroke="#eba24a">7</text><text transform="translate(209.10,300.93) scale(1,1.08)" x="0" y="0" font-size="8.0" text-anchor="middle" fill="#eba24a" stroke="#eba24a">6</text><text transform="translate(222.90,300.93) scale(1,1.08)" x="0" y="0" font-size="8.0" text-anchor="middle" fill="#eba24a" stroke="#eba24a">3</text><text transform="translate(236.70,300.93) scale(1,1.08)" x="0" y="0" font-size="8.0" text-anchor="middle" fill="#eba24a" stroke="#eba24a">2</text><text transform="translate(250.50,300.93) scale(1,1.08)" x="0" y="0" font-size="8.0" text-anchor="middle" fill="#eba24a" stroke="#eba24a">2</text><text transform="translate(264.30,300.93) scale(1,1.08)" x="0" y="0" font-size="8.0" text-anchor="middle" fill="#eba24a" stroke="#eba24a">2</text><text transform="translate(278.10,300.93) scale(1,1.08)" x="0" y="0" font-size="8.0" text-anchor="middle" fill="#eba24a" stroke="#eba24a">2</text><text transform="translate(291.90,300.93) scale(1,1.08)" x="0" y="0" font-size="8.0" text-anchor="middle" fill="#eba24a" stroke="#eba24a">2</text><text transform="translate(305.70,300.93) scale(1,1.08)" x="0" y="0" font-size="8.0" text-anchor="middle" fill="#eba24a" stroke="#eba24a">0</text><text transform="translate(319.50,300.93) scale(1,1.08)" x="0" y="0" font-size="8.0" text-anchor="middle" fill="#eba24a" stroke="#eba24a">0</text><text transform="translate(333.30,300.93) scale(1,1.08)" x="0" y="0" font-size="8.0" text-anchor="middle" fill="#eba24a" stroke="#eba24a">0</text><text transform="translate(347.10,300.93) scale(1,1.08)" x="0" y="0" font-size="8.0" text-anchor="middle" fill="#eba24a" stroke="#eba24a">0</text><text transform="translate(360.90,300.93) scale(1,1.08)" x="0" y="0" font-size="8.0" text-anchor="middle" fill="#eba24a" stroke="#eba24a">0</text><text transform="translate(374.70,300.93) scale(1,1.08)" x="0" y="0" font-size="8.0" text-anchor="middle" fill="#eba24a" stroke="#eba24a">0</text><text transform="translate(388.50,300.93) scale(1,1.08)" x="0" y="0" font-size="8.0" text-anchor="middle" fill="#eba24a" stroke="#eba24a">0</text><text transform="translate(402.30,300.93) scale(1,1.08)" x="0" y="0" font-size="8.0" text-anchor="middle" fill="#eba24a" stroke="#eba24a">0</text><text transform="translate(416.10,300.93) scale(1,1.08)" x="0" y="0" font-size="8.0" text-anchor="middle" fill="#eba24a" stroke="#eba24a">0</text><text transform="translate(429.90,300.93) scale(1,1.08)" x="0" y="0" font-size="8.0" text-anchor="middle" fill="#eba24a" stroke="#eba24a">0</text><text transform="translate(443.70,300.93) scale(1,1.08)" x="0" y="0" font-size="8.0" text-anchor="middle" fill="#eba24a" stroke="#eba24a">0</text><text transform="translate(457.50,300.93) scale(1,1.08)" x="0" y="0" font-size="8.0" text-anchor="middle" fill="#eba24a" stroke="#eba24a">0</text><text transform="translate(471.30,300.93) scale(1,1.08)" x="0" y="0" font-size="8.0" text-anchor="middle" fill="#eba24a" stroke="#eba24a">0</text><text transform="translate(485.10,300.93) scale(1,1.08)" x="0" y="0" font-size="8.0" text-anchor="middle" fill="#eba24a" stroke="#eba24a">0</text><text transform="translate(498.90,300.93) scale(1,1.08)" x="0" y="0" font-size="8.0" text-anchor="middle" fill="#eba24a" stroke="#eba24a">0</text>
<text transform="translate(75.8,312.96) scale(1,1.08)" x="0" y="0" font-size="8.0" text-anchor="end" fill="#58a858" stroke="#58a858">SD</text>
<g transform="translate(84.90,312.96) scale(1,1.08)"><text x="0" y="0" font-size="8.0" text-anchor="middle" fill="#58a858" stroke="#58a858">2 </text><path transform="translate(0.000,0) scale(0.003906,-0.003906)" d="M515 0V1237L197 1010V1180L530 1409H696V0Z" fill="#58a858" stroke="#58a858" stroke-width="20.5"/></g><g transform="translate(98.70,312.96) scale(1,1.08)"><text x="0" y="0" font-size="8.0" text-anchor="middle" fill="#58a858" stroke="#58a858">2 </text><path transform="translate(0.000,0) scale(0.003906,-0.003906)" d="M515 0V1237L197 1010V1180L530 1409H696V0Z" fill="#58a858" stroke="#58a858" stroke-width="20.5"/></g><g transform="translate(112.50,312.96) scale(1,1.08)"><text x="0" y="0" font-size="8.0" text-anchor="middle" fill="#58a858" stroke="#58a858"> 7</text><path transform="translate(-4.449,0) scale(0.003906,-0.003906)" d="M515 0V1237L197 1010V1180L530 1409H696V0Z" fill="#58a858" stroke="#58a858" stroke-width="20.5"/></g><g transform="translate(126.30,312.96) scale(1,1.08)"><text x="0" y="0" font-size="8.0" text-anchor="middle" fill="#58a858" stroke="#58a858"> 0</text><path transform="translate(-4.449,0) scale(0.003906,-0.003906)" d="M515 0V1237L197 1010V1180L530 1409H696V0Z" fill="#58a858" stroke="#58a858" stroke-width="20.5"/></g><text transform="translate(140.10,312.96) scale(1,1.08)" x="0" y="0" font-size="8.0" text-anchor="middle" fill="#58a858" stroke="#58a858">7</text><text transform="translate(153.90,312.96) scale(1,1.08)" x="0" y="0" font-size="8.0" text-anchor="middle" fill="#58a858" stroke="#58a858">3</text><g transform="translate(167.70,312.96) scale(1,1.08)"><text x="0" y="0" font-size="8.0" text-anchor="middle" fill="#58a858" stroke="#58a858"> </text><path transform="translate(-2.225,0) scale(0.003906,-0.003906)" d="M515 0V1237L197 1010V1180L530 1409H696V0Z" fill="#58a858" stroke="#58a858" stroke-width="20.5"/></g><g transform="translate(181.50,312.96) scale(1,1.08)"><text x="0" y="0" font-size="8.0" text-anchor="middle" fill="#58a858" stroke="#58a858"> </text><path transform="translate(-2.225,0) scale(0.003906,-0.003906)" d="M515 0V1237L197 1010V1180L530 1409H696V0Z" fill="#58a858" stroke="#58a858" stroke-width="20.5"/></g><g transform="translate(195.30,312.96) scale(1,1.08)"><text x="0" y="0" font-size="8.0" text-anchor="middle" fill="#58a858" stroke="#58a858"> </text><path transform="translate(-2.225,0) scale(0.003906,-0.003906)" d="M515 0V1237L197 1010V1180L530 1409H696V0Z" fill="#58a858" stroke="#58a858" stroke-width="20.5"/></g><g transform="translate(209.10,312.96) scale(1,1.08)"><text x="0" y="0" font-size="8.0" text-anchor="middle" fill="#58a858" stroke="#58a858"> </text><path transform="translate(-2.225,0) scale(0.003906,-0.003906)" d="M515 0V1237L197 1010V1180L530 1409H696V0Z" fill="#58a858" stroke="#58a858" stroke-width="20.5"/></g><text transform="translate(222.90,312.96) scale(1,1.08)" x="0" y="0" font-size="8.0" text-anchor="middle" fill="#58a858" stroke="#58a858">0</text><text transform="translate(236.70,312.96) scale(1,1.08)" x="0" y="0" font-size="8.0" text-anchor="middle" fill="#58a858" stroke="#58a858">0</text><text transform="translate(250.50,312.96) scale(1,1.08)" x="0" y="0" font-size="8.0" text-anchor="middle" fill="#58a858" stroke="#58a858">0</text><text transform="translate(264.30,312.96) scale(1,1.08)" x="0" y="0" font-size="8.0" text-anchor="middle" fill="#58a858" stroke="#58a858">0</text><text transform="translate(278.10,312.96) scale(1,1.08)" x="0" y="0" font-size="8.0" text-anchor="middle" fill="#58a858" stroke="#58a858">0</text><text transform="translate(291.90,312.96) scale(1,1.08)" x="0" y="0" font-size="8.0" text-anchor="middle" fill="#58a858" stroke="#58a858">0</text><text transform="translate(305.70,312.96) scale(1,1.08)" x="0" y="0" font-size="8.0" text-anchor="middle" fill="#58a858" stroke="#58a858">0</text><text transform="translate(319.50,312.96) scale(1,1.08)" x="0" y="0" font-size="8.0" text-anchor="middle" fill="#58a858" stroke="#58a858">0</text><text transform="translate(333.30,312.96) scale(1,1.08)" x="0" y="0" font-size="8.0" text-anchor="middle" fill="#58a858" stroke="#58a858">0</text><text transform="translate(347.10,312.96) scale(1,1.08)" x="0" y="0" font-size="8.0" text-anchor="middle" fill="#58a858" stroke="#58a858">0</text><text transform="translate(360.90,312.96) scale(1,1.08)" x="0" y="0" font-size="8.0" text-anchor="middle" fill="#58a858" stroke="#58a858">0</text><text transform="translate(374.70,312.96) scale(1,1.08)" x="0" y="0" font-size="8.0" text-anchor="middle" fill="#58a858" stroke="#58a858">0</text><text transform="translate(388.50,312.96) scale(1,1.08)" x="0" y="0" font-size="8.0" text-anchor="middle" fill="#58a858" stroke="#58a858">0</text><text transform="translate(402.30,312.96) scale(1,1.08)" x="0" y="0" font-size="8.0" text-anchor="middle" fill="#58a858" stroke="#58a858">0</text><text transform="translate(416.10,312.96) scale(1,1.08)" x="0" y="0" font-size="8.0" text-anchor="middle" fill="#58a858" stroke="#58a858">0</text><text transform="translate(429.90,312.96) scale(1,1.08)" x="0" y="0" font-size="8.0" text-anchor="middle" fill="#58a858" stroke="#58a858">0</text><text transform="translate(443.70,312.96) scale(1,1.08)" x="0" y="0" font-size="8.0" text-anchor="middle" fill="#58a858" stroke="#58a858">0</text><text transform="translate(457.50,312.96) scale(1,1.08)" x="0" y="0" font-size="8.0" text-anchor="middle" fill="#58a858" stroke="#58a858">0</text><text transform="translate(471.30,312.96) scale(1,1.08)" x="0" y="0" font-size="8.0" text-anchor="middle" fill="#58a858" stroke="#58a858">0</text><text transform="translate(485.10,312.96) scale(1,1.08)" x="0" y="0" font-size="8.0" text-anchor="middle" fill="#58a858" stroke="#58a858">0</text><text transform="translate(498.90,312.96) scale(1,1.08)" x="0" y="0" font-size="8.0" text-anchor="middle" fill="#58a858" stroke="#58a858">0</text>
<text transform="translate(75.8,324.99) scale(1,1.08)" x="0" y="0" font-size="8.0" text-anchor="end" fill="#9593c9" stroke="#9593c9">PD + not evaluable</text>
<g transform="translate(84.90,324.99) scale(1,1.08)"><text x="0" y="0" font-size="8.0" text-anchor="middle" fill="#9593c9" stroke="#9593c9"> 4</text><path transform="translate(-4.449,0) scale(0.003906,-0.003906)" d="M515 0V1237L197 1010V1180L530 1409H696V0Z" fill="#9593c9" stroke="#9593c9" stroke-width="20.5"/></g><g transform="translate(98.70,324.99) scale(1,1.08)"><text x="0" y="0" font-size="8.0" text-anchor="middle" fill="#9593c9" stroke="#9593c9"> 0</text><path transform="translate(-4.449,0) scale(0.003906,-0.003906)" d="M515 0V1237L197 1010V1180L530 1409H696V0Z" fill="#9593c9" stroke="#9593c9" stroke-width="20.5"/></g><g transform="translate(112.50,324.99) scale(1,1.08)"><text x="0" y="0" font-size="8.0" text-anchor="middle" fill="#9593c9" stroke="#9593c9"> </text><path transform="translate(-2.225,0) scale(0.003906,-0.003906)" d="M515 0V1237L197 1010V1180L530 1409H696V0Z" fill="#9593c9" stroke="#9593c9" stroke-width="20.5"/></g><g transform="translate(126.30,324.99) scale(1,1.08)"><text x="0" y="0" font-size="8.0" text-anchor="middle" fill="#9593c9" stroke="#9593c9"> </text><path transform="translate(-2.225,0) scale(0.003906,-0.003906)" d="M515 0V1237L197 1010V1180L530 1409H696V0Z" fill="#9593c9" stroke="#9593c9" stroke-width="20.5"/></g><text transform="translate(140.10,324.99) scale(1,1.08)" x="0" y="0" font-size="8.0" text-anchor="middle" fill="#9593c9" stroke="#9593c9">0</text><text transform="translate(153.90,324.99) scale(1,1.08)" x="0" y="0" font-size="8.0" text-anchor="middle" fill="#9593c9" stroke="#9593c9">0</text><text transform="translate(167.70,324.99) scale(1,1.08)" x="0" y="0" font-size="8.0" text-anchor="middle" fill="#9593c9" stroke="#9593c9">0</text><text transform="translate(181.50,324.99) scale(1,1.08)" x="0" y="0" font-size="8.0" text-anchor="middle" fill="#9593c9" stroke="#9593c9">0</text><text transform="translate(195.30,324.99) scale(1,1.08)" x="0" y="0" font-size="8.0" text-anchor="middle" fill="#9593c9" stroke="#9593c9">0</text><text transform="translate(209.10,324.99) scale(1,1.08)" x="0" y="0" font-size="8.0" text-anchor="middle" fill="#9593c9" stroke="#9593c9">0</text><text transform="translate(222.90,324.99) scale(1,1.08)" x="0" y="0" font-size="8.0" text-anchor="middle" fill="#9593c9" stroke="#9593c9">0</text><text transform="translate(236.70,324.99) scale(1,1.08)" x="0" y="0" font-size="8.0" text-anchor="middle" fill="#9593c9" stroke="#9593c9">0</text><text transform="translate(250.50,324.99) scale(1,1.08)" x="0" y="0" font-size="8.0" text-anchor="middle" fill="#9593c9" stroke="#9593c9">0</text><text transform="translate(264.30,324.99) scale(1,1.08)" x="0" y="0" font-size="8.0" text-anchor="middle" fill="#9593c9" stroke="#9593c9">0</text><text transform="translate(278.10,324.99) scale(1,1.08)" x="0" y="0" font-size="8.0" text-anchor="middle" fill="#9593c9" stroke="#9593c9">0</text><text transform="translate(291.90,324.99) scale(1,1.08)" x="0" y="0" font-size="8.0" text-anchor="middle" fill="#9593c9" stroke="#9593c9">0</text><text transform="translate(305.70,324.99) scale(1,1.08)" x="0" y="0" font-size="8.0" text-anchor="middle" fill="#9593c9" stroke="#9593c9">0</text><text transform="translate(319.50,324.99) scale(1,1.08)" x="0" y="0" font-size="8.0" text-anchor="middle" fill="#9593c9" stroke="#9593c9">0</text><text transform="translate(333.30,324.99) scale(1,1.08)" x="0" y="0" font-size="8.0" text-anchor="middle" fill="#9593c9" stroke="#9593c9">0</text><text transform="translate(347.10,324.99) scale(1,1.08)" x="0" y="0" font-size="8.0" text-anchor="middle" fill="#9593c9" stroke="#9593c9">0</text><text transform="translate(360.90,324.99) scale(1,1.08)" x="0" y="0" font-size="8.0" text-anchor="middle" fill="#9593c9" stroke="#9593c9">0</text><text transform="translate(374.70,324.99) scale(1,1.08)" x="0" y="0" font-size="8.0" text-anchor="middle" fill="#9593c9" stroke="#9593c9">0</text><text transform="translate(388.50,324.99) scale(1,1.08)" x="0" y="0" font-size="8.0" text-anchor="middle" fill="#9593c9" stroke="#9593c9">0</text><text transform="translate(402.30,324.99) scale(1,1.08)" x="0" y="0" font-size="8.0" text-anchor="middle" fill="#9593c9" stroke="#9593c9">0</text><text transform="translate(416.10,324.99) scale(1,1.08)" x="0" y="0" font-size="8.0" text-anchor="middle" fill="#9593c9" stroke="#9593c9">0</text><text transform="translate(429.90,324.99) scale(1,1.08)" x="0" y="0" font-size="8.0" text-anchor="middle" fill="#9593c9" stroke="#9593c9">0</text><text transform="translate(443.70,324.99) scale(1,1.08)" x="0" y="0" font-size="8.0" text-anchor="middle" fill="#9593c9" stroke="#9593c9">0</text><text transform="translate(457.50,324.99) scale(1,1.08)" x="0" y="0" font-size="8.0" text-anchor="middle" fill="#9593c9" stroke="#9593c9">0</text><text transform="translate(471.30,324.99) scale(1,1.08)" x="0" y="0" font-size="8.0" text-anchor="middle" fill="#9593c9" stroke="#9593c9">0</text><text transform="translate(485.10,324.99) scale(1,1.08)" x="0" y="0" font-size="8.0" text-anchor="middle" fill="#9593c9" stroke="#9593c9">0</text><text transform="translate(498.90,324.99) scale(1,1.08)" x="0" y="0" font-size="8.0" text-anchor="middle" fill="#9593c9" stroke="#9593c9">0</text>
<line x1="76" y1="359" x2="76" y2="573.0" stroke="#111" stroke-width="2"/>
<line x1="72.3" y1="572.0" x2="502.7" y2="572.0" stroke="#111" stroke-width="2"/>
<line x1="72" y1="571.90" x2="76" y2="571.90" stroke="#111" stroke-width="1.4"/>
<text transform="translate(68.4,574.55) scale(1,1.08)" x="0" y="0" font-size="8.1" text-anchor="end" fill="#1a1a1a" stroke="#1a1a1a" style="stroke-width:0.2px">0.0</text>
<line x1="72" y1="551.00" x2="76" y2="551.00" stroke="#111" stroke-width="1.4"/>
<g transform="translate(68.4,553.65) scale(1,1.08)"><text x="0" y="0" font-size="8.1" text-anchor="end" fill="#1a1a1a" stroke="#1a1a1a" style="stroke-width:0.2px">0. </text><path transform="translate(-4.505,0) scale(0.003955,-0.003955)" d="M515 0V1237L197 1010V1180L530 1409H696V0Z" fill="#1a1a1a" stroke="#1a1a1a" stroke-width="50.6"/></g>
<line x1="72" y1="530.10" x2="76" y2="530.10" stroke="#111" stroke-width="1.4"/>
<text transform="translate(68.4,532.75) scale(1,1.08)" x="0" y="0" font-size="8.1" text-anchor="end" fill="#1a1a1a" stroke="#1a1a1a" style="stroke-width:0.2px">0.2</text>
<line x1="72" y1="509.20" x2="76" y2="509.20" stroke="#111" stroke-width="1.4"/>
<text transform="translate(68.4,511.85) scale(1,1.08)" x="0" y="0" font-size="8.1" text-anchor="end" fill="#1a1a1a" stroke="#1a1a1a" style="stroke-width:0.2px">0.3</text>
<line x1="72" y1="488.30" x2="76" y2="488.30" stroke="#111" stroke-width="1.4"/>
<text transform="translate(68.4,490.95) scale(1,1.08)" x="0" y="0" font-size="8.1" text-anchor="end" fill="#1a1a1a" stroke="#1a1a1a" style="stroke-width:0.2px">0.4</text>
<line x1="72" y1="467.40" x2="76" y2="467.40" stroke="#111" stroke-width="1.4"/>
<text transform="translate(68.4,470.05) scale(1,1.08)" x="0" y="0" font-size="8.1" text-anchor="end" fill="#1a1a1a" stroke="#1a1a1a" style="stroke-width:0.2px">0.5</text>
<line x1="72" y1="446.50" x2="76" y2="446.50" stroke="#111" stroke-width="1.4"/>
<text transform="translate(68.4,449.15) scale(1,1.08)" x="0" y="0" font-size="8.1" text-anchor="end" fill="#1a1a1a" stroke="#1a1a1a" style="stroke-width:0.2px">0.6</text>
<line x1="72" y1="425.60" x2="76" y2="425.60" stroke="#111" stroke-width="1.4"/>
<text transform="translate(68.4,428.25) scale(1,1.08)" x="0" y="0" font-size="8.1" text-anchor="end" fill="#1a1a1a" stroke="#1a1a1a" style="stroke-width:0.2px">0.7</text>
<line x1="72" y1="404.70" x2="76" y2="404.70" stroke="#111" stroke-width="1.4"/>
<text transform="translate(68.4,407.35) scale(1,1.08)" x="0" y="0" font-size="8.1" text-anchor="end" fill="#1a1a1a" stroke="#1a1a1a" style="stroke-width:0.2px">0.8</text>
<line x1="72" y1="383.80" x2="76" y2="383.80" stroke="#111" stroke-width="1.4"/>
<text transform="translate(68.4,386.45) scale(1,1.08)" x="0" y="0" font-size="8.1" text-anchor="end" fill="#1a1a1a" stroke="#1a1a1a" style="stroke-width:0.2px">0.9</text>
<line x1="72" y1="362.90" x2="76" y2="362.90" stroke="#111" stroke-width="1.4"/>
<g transform="translate(68.4,365.55) scale(1,1.08)"><text x="0" y="0" font-size="8.1" text-anchor="end" fill="#1a1a1a" stroke="#1a1a1a" style="stroke-width:0.2px"> .0</text><path transform="translate(-11.260,0) scale(0.003955,-0.003955)" d="M515 0V1237L197 1010V1180L530 1409H696V0Z" fill="#1a1a1a" stroke="#1a1a1a" stroke-width="50.6"/></g>
<line x1="84.60" y1="572.0" x2="84.60" y2="575.9" stroke="#111" stroke-width="1.4"/>
<line x1="94.95" y1="572.0" x2="94.95" y2="575.9" stroke="#111" stroke-width="1.4"/>
<line x1="105.30" y1="572.0" x2="105.30" y2="575.9" stroke="#111" stroke-width="1.4"/>
<line x1="115.65" y1="572.0" x2="115.65" y2="575.9" stroke="#111" stroke-width="1.4"/>
<line x1="126.00" y1="572.0" x2="126.00" y2="575.9" stroke="#111" stroke-width="1.4"/>
<line x1="136.35" y1="572.0" x2="136.35" y2="575.9" stroke="#111" stroke-width="1.4"/>
<line x1="146.70" y1="572.0" x2="146.70" y2="575.9" stroke="#111" stroke-width="1.4"/>
<line x1="157.05" y1="572.0" x2="157.05" y2="575.9" stroke="#111" stroke-width="1.4"/>
<line x1="167.40" y1="572.0" x2="167.40" y2="575.9" stroke="#111" stroke-width="1.4"/>
<line x1="177.75" y1="572.0" x2="177.75" y2="575.9" stroke="#111" stroke-width="1.4"/>
<line x1="188.10" y1="572.0" x2="188.10" y2="575.9" stroke="#111" stroke-width="1.4"/>
<line x1="198.45" y1="572.0" x2="198.45" y2="575.9" stroke="#111" stroke-width="1.4"/>
<line x1="208.80" y1="572.0" x2="208.80" y2="575.9" stroke="#111" stroke-width="1.4"/>
<line x1="219.15" y1="572.0" x2="219.15" y2="575.9" stroke="#111" stroke-width="1.4"/>
<line x1="229.50" y1="572.0" x2="229.50" y2="575.9" stroke="#111" stroke-width="1.4"/>
<line x1="239.85" y1="572.0" x2="239.85" y2="575.9" stroke="#111" stroke-width="1.4"/>
<line x1="250.20" y1="572.0" x2="250.20" y2="575.9" stroke="#111" stroke-width="1.4"/>
<line x1="260.55" y1="572.0" x2="260.55" y2="575.9" stroke="#111" stroke-width="1.4"/>
<line x1="270.90" y1="572.0" x2="270.90" y2="575.9" stroke="#111" stroke-width="1.4"/>
<line x1="281.25" y1="572.0" x2="281.25" y2="575.9" stroke="#111" stroke-width="1.4"/>
<line x1="291.60" y1="572.0" x2="291.60" y2="575.9" stroke="#111" stroke-width="1.4"/>
<line x1="301.95" y1="572.0" x2="301.95" y2="575.9" stroke="#111" stroke-width="1.4"/>
<line x1="312.30" y1="572.0" x2="312.30" y2="575.9" stroke="#111" stroke-width="1.4"/>
<line x1="322.65" y1="572.0" x2="322.65" y2="575.9" stroke="#111" stroke-width="1.4"/>
<line x1="333.00" y1="572.0" x2="333.00" y2="575.9" stroke="#111" stroke-width="1.4"/>
<line x1="343.35" y1="572.0" x2="343.35" y2="575.9" stroke="#111" stroke-width="1.4"/>
<line x1="353.70" y1="572.0" x2="353.70" y2="575.9" stroke="#111" stroke-width="1.4"/>
<line x1="364.05" y1="572.0" x2="364.05" y2="575.9" stroke="#111" stroke-width="1.4"/>
<line x1="374.40" y1="572.0" x2="374.40" y2="575.9" stroke="#111" stroke-width="1.4"/>
<line x1="384.75" y1="572.0" x2="384.75" y2="575.9" stroke="#111" stroke-width="1.4"/>
<line x1="395.10" y1="572.0" x2="395.10" y2="575.9" stroke="#111" stroke-width="1.4"/>
<line x1="405.45" y1="572.0" x2="405.45" y2="575.9" stroke="#111" stroke-width="1.4"/>
<line x1="415.80" y1="572.0" x2="415.80" y2="575.9" stroke="#111" stroke-width="1.4"/>
<line x1="426.15" y1="572.0" x2="426.15" y2="575.9" stroke="#111" stroke-width="1.4"/>
<line x1="436.50" y1="572.0" x2="436.50" y2="575.9" stroke="#111" stroke-width="1.4"/>
<line x1="446.85" y1="572.0" x2="446.85" y2="575.9" stroke="#111" stroke-width="1.4"/>
<line x1="457.20" y1="572.0" x2="457.20" y2="575.9" stroke="#111" stroke-width="1.4"/>
<line x1="467.55" y1="572.0" x2="467.55" y2="575.9" stroke="#111" stroke-width="1.4"/>
<line x1="477.90" y1="572.0" x2="477.90" y2="575.9" stroke="#111" stroke-width="1.4"/>
<line x1="488.25" y1="572.0" x2="488.25" y2="575.9" stroke="#111" stroke-width="1.4"/>
<line x1="498.60" y1="572.0" x2="498.60" y2="575.9" stroke="#111" stroke-width="1.4"/>
<text transform="translate(85.60,584.30) rotate(-45) scale(1,1.08)" x="0" y="2.84" font-size="7.9" text-anchor="middle" fill="#1a1a1a" stroke="#1a1a1a" style="stroke-width:0.2px">0</text>
<g transform="translate(95.95,584.30) rotate(-45) scale(1,1.08)"><text x="0" y="2.84" font-size="7.9" text-anchor="middle" fill="#1a1a1a" stroke="#1a1a1a" style="stroke-width:0.2px"> </text><path transform="translate(-2.197,2.84) scale(0.003857,-0.003857)" d="M515 0V1237L197 1010V1180L530 1409H696V0Z" fill="#1a1a1a" stroke="#1a1a1a" stroke-width="51.8"/></g>
<text transform="translate(106.30,584.30) rotate(-45) scale(1,1.08)" x="0" y="2.84" font-size="7.9" text-anchor="middle" fill="#1a1a1a" stroke="#1a1a1a" style="stroke-width:0.2px">2</text>
<text transform="translate(116.65,584.30) rotate(-45) scale(1,1.08)" x="0" y="2.84" font-size="7.9" text-anchor="middle" fill="#1a1a1a" stroke="#1a1a1a" style="stroke-width:0.2px">3</text>
<text transform="translate(127.00,584.30) rotate(-45) scale(1,1.08)" x="0" y="2.84" font-size="7.9" text-anchor="middle" fill="#1a1a1a" stroke="#1a1a1a" style="stroke-width:0.2px">4</text>
<text transform="translate(137.35,584.30) rotate(-45) scale(1,1.08)" x="0" y="2.84" font-size="7.9" text-anchor="middle" fill="#1a1a1a" stroke="#1a1a1a" style="stroke-width:0.2px">5</text>
<text transform="translate(147.70,584.30) rotate(-45) scale(1,1.08)" x="0" y="2.84" font-size="7.9" text-anchor="middle" fill="#1a1a1a" stroke="#1a1a1a" style="stroke-width:0.2px">6</text>
<text transform="translate(158.05,584.30) rotate(-45) scale(1,1.08)" x="0" y="2.84" font-size="7.9" text-anchor="middle" fill="#1a1a1a" stroke="#1a1a1a" style="stroke-width:0.2px">7</text>
<text transform="translate(168.40,584.30) rotate(-45) scale(1,1.08)" x="0" y="2.84" font-size="7.9" text-anchor="middle" fill="#1a1a1a" stroke="#1a1a1a" style="stroke-width:0.2px">8</text>
<text transform="translate(178.75,584.30) rotate(-45) scale(1,1.08)" x="0" y="2.84" font-size="7.9" text-anchor="middle" fill="#1a1a1a" stroke="#1a1a1a" style="stroke-width:0.2px">9</text>
<g transform="translate(188.40,585.90) rotate(-45) scale(1,1.08)"><text x="0" y="2.84" font-size="7.9" text-anchor="middle" fill="#1a1a1a" stroke="#1a1a1a" style="stroke-width:0.2px"> 0</text><path transform="translate(-4.394,2.84) scale(0.003857,-0.003857)" d="M515 0V1237L197 1010V1180L530 1409H696V0Z" fill="#1a1a1a" stroke="#1a1a1a" stroke-width="51.8"/></g>
<g transform="translate(198.75,585.90) rotate(-45) scale(1,1.08)"><text x="0" y="2.84" font-size="7.9" text-anchor="middle" fill="#1a1a1a" stroke="#1a1a1a" style="stroke-width:0.2px">  </text><path transform="translate(-4.394,2.84) scale(0.003857,-0.003857)" d="M515 0V1237L197 1010V1180L530 1409H696V0Z" fill="#1a1a1a" stroke="#1a1a1a" stroke-width="51.8"/><path transform="translate(0.000,2.84) scale(0.003857,-0.003857)" d="M515 0V1237L197 1010V1180L530 1409H696V0Z" fill="#1a1a1a" stroke="#1a1a1a" stroke-width="51.8"/></g>
<g transform="translate(209.10,585.90) rotate(-45) scale(1,1.08)"><text x="0" y="2.84" font-size="7.9" text-anchor="middle" fill="#1a1a1a" stroke="#1a1a1a" style="stroke-width:0.2px"> 2</text><path transform="translate(-4.394,2.84) scale(0.003857,-0.003857)" d="M515 0V1237L197 1010V1180L530 1409H696V0Z" fill="#1a1a1a" stroke="#1a1a1a" stroke-width="51.8"/></g>
<g transform="translate(219.45,585.90) rotate(-45) scale(1,1.08)"><text x="0" y="2.84" font-size="7.9" text-anchor="middle" fill="#1a1a1a" stroke="#1a1a1a" style="stroke-width:0.2px"> 3</text><path transform="translate(-4.394,2.84) scale(0.003857,-0.003857)" d="M515 0V1237L197 1010V1180L530 1409H696V0Z" fill="#1a1a1a" stroke="#1a1a1a" stroke-width="51.8"/></g>
<g transform="translate(229.80,585.90) rotate(-45) scale(1,1.08)"><text x="0" y="2.84" font-size="7.9" text-anchor="middle" fill="#1a1a1a" stroke="#1a1a1a" style="stroke-width:0.2px"> 4</text><path transform="translate(-4.394,2.84) scale(0.003857,-0.003857)" d="M515 0V1237L197 1010V1180L530 1409H696V0Z" fill="#1a1a1a" stroke="#1a1a1a" stroke-width="51.8"/></g>
<g transform="translate(240.15,585.90) rotate(-45) scale(1,1.08)"><text x="0" y="2.84" font-size="7.9" text-anchor="middle" fill="#1a1a1a" stroke="#1a1a1a" style="stroke-width:0.2px"> 5</text><path transform="translate(-4.394,2.84) scale(0.003857,-0.003857)" d="M515 0V1237L197 1010V1180L530 1409H696V0Z" fill="#1a1a1a" stroke="#1a1a1a" stroke-width="51.8"/></g>
<g transform="translate(250.50,585.90) rotate(-45) scale(1,1.08)"><text x="0" y="2.84" font-size="7.9" text-anchor="middle" fill="#1a1a1a" stroke="#1a1a1a" style="stroke-width:0.2px"> 6</text><path transform="translate(-4.394,2.84) scale(0.003857,-0.003857)" d="M515 0V1237L197 1010V1180L530 1409H696V0Z" fill="#1a1a1a" stroke="#1a1a1a" stroke-width="51.8"/></g>
<g transform="translate(260.85,585.90) rotate(-45) scale(1,1.08)"><text x="0" y="2.84" font-size="7.9" text-anchor="middle" fill="#1a1a1a" stroke="#1a1a1a" style="stroke-width:0.2px"> 7</text><path transform="translate(-4.394,2.84) scale(0.003857,-0.003857)" d="M515 0V1237L197 1010V1180L530 1409H696V0Z" fill="#1a1a1a" stroke="#1a1a1a" stroke-width="51.8"/></g>
<g transform="translate(271.20,585.90) rotate(-45) scale(1,1.08)"><text x="0" y="2.84" font-size="7.9" text-anchor="middle" fill="#1a1a1a" stroke="#1a1a1a" style="stroke-width:0.2px"> 8</text><path transform="translate(-4.394,2.84) scale(0.003857,-0.003857)" d="M515 0V1237L197 1010V1180L530 1409H696V0Z" fill="#1a1a1a" stroke="#1a1a1a" stroke-width="51.8"/></g>
<g transform="translate(281.55,585.90) rotate(-45) scale(1,1.08)"><text x="0" y="2.84" font-size="7.9" text-anchor="middle" fill="#1a1a1a" stroke="#1a1a1a" style="stroke-width:0.2px"> 9</text><path transform="translate(-4.394,2.84) scale(0.003857,-0.003857)" d="M515 0V1237L197 1010V1180L530 1409H696V0Z" fill="#1a1a1a" stroke="#1a1a1a" stroke-width="51.8"/></g>
<text transform="translate(291.90,585.90) rotate(-45) scale(1,1.08)" x="0" y="2.84" font-size="7.9" text-anchor="middle" fill="#1a1a1a" stroke="#1a1a1a" style="stroke-width:0.2px">20</text>
<g transform="translate(302.25,585.90) rotate(-45) scale(1,1.08)"><text x="0" y="2.84" font-size="7.9" text-anchor="middle" fill="#1a1a1a" stroke="#1a1a1a" style="stroke-width:0.2px">2 </text><path transform="translate(0.000,2.84) scale(0.003857,-0.003857)" d="M515 0V1237L197 1010V1180L530 1409H696V0Z" fill="#1a1a1a" stroke="#1a1a1a" stroke-width="51.8"/></g>
<text transform="translate(312.60,585.90) rotate(-45) scale(1,1.08)" x="0" y="2.84" font-size="7.9" text-anchor="middle" fill="#1a1a1a" stroke="#1a1a1a" style="stroke-width:0.2px">22</text>
<text transform="translate(322.95,585.90) rotate(-45) scale(1,1.08)" x="0" y="2.84" font-size="7.9" text-anchor="middle" fill="#1a1a1a" stroke="#1a1a1a" style="stroke-width:0.2px">23</text>
<text transform="translate(333.30,585.90) rotate(-45) scale(1,1.08)" x="0" y="2.84" font-size="7.9" text-anchor="middle" fill="#1a1a1a" stroke="#1a1a1a" style="stroke-width:0.2px">24</text>
<text transform="translate(343.65,585.90) rotate(-45) scale(1,1.08)" x="0" y="2.84" font-size="7.9" text-anchor="middle" fill="#1a1a1a" stroke="#1a1a1a" style="stroke-width:0.2px">25</text>
<text transform="translate(354.00,585.90) rotate(-45) scale(1,1.08)" x="0" y="2.84" font-size="7.9" text-anchor="middle" fill="#1a1a1a" stroke="#1a1a1a" style="stroke-width:0.2px">26</text>
<text transform="translate(364.35,585.90) rotate(-45) scale(1,1.08)" x="0" y="2.84" font-size="7.9" text-anchor="middle" fill="#1a1a1a" stroke="#1a1a1a" style="stroke-width:0.2px">27</text>
<text transform="translate(374.70,585.90) rotate(-45) scale(1,1.08)" x="0" y="2.84" font-size="7.9" text-anchor="middle" fill="#1a1a1a" stroke="#1a1a1a" style="stroke-width:0.2px">28</text>
<text transform="translate(385.05,585.90) rotate(-45) scale(1,1.08)" x="0" y="2.84" font-size="7.9" text-anchor="middle" fill="#1a1a1a" stroke="#1a1a1a" style="stroke-width:0.2px">29</text>
<text transform="translate(395.40,585.90) rotate(-45) scale(1,1.08)" x="0" y="2.84" font-size="7.9" text-anchor="middle" fill="#1a1a1a" stroke="#1a1a1a" style="stroke-width:0.2px">30</text>
<g transform="translate(405.75,585.90) rotate(-45) scale(1,1.08)"><text x="0" y="2.84" font-size="7.9" text-anchor="middle" fill="#1a1a1a" stroke="#1a1a1a" style="stroke-width:0.2px">3 </text><path transform="translate(0.000,2.84) scale(0.003857,-0.003857)" d="M515 0V1237L197 1010V1180L530 1409H696V0Z" fill="#1a1a1a" stroke="#1a1a1a" stroke-width="51.8"/></g>
<text transform="translate(416.10,585.90) rotate(-45) scale(1,1.08)" x="0" y="2.84" font-size="7.9" text-anchor="middle" fill="#1a1a1a" stroke="#1a1a1a" style="stroke-width:0.2px">32</text>
<text transform="translate(426.45,585.90) rotate(-45) scale(1,1.08)" x="0" y="2.84" font-size="7.9" text-anchor="middle" fill="#1a1a1a" stroke="#1a1a1a" style="stroke-width:0.2px">33</text>
<text transform="translate(436.80,585.90) rotate(-45) scale(1,1.08)" x="0" y="2.84" font-size="7.9" text-anchor="middle" fill="#1a1a1a" stroke="#1a1a1a" style="stroke-width:0.2px">34</text>
<text transform="translate(447.15,585.90) rotate(-45) scale(1,1.08)" x="0" y="2.84" font-size="7.9" text-anchor="middle" fill="#1a1a1a" stroke="#1a1a1a" style="stroke-width:0.2px">35</text>
<text transform="translate(457.50,585.90) rotate(-45) scale(1,1.08)" x="0" y="2.84" font-size="7.9" text-anchor="middle" fill="#1a1a1a" stroke="#1a1a1a" style="stroke-width:0.2px">36</text>
<text transform="translate(467.85,585.90) rotate(-45) scale(1,1.08)" x="0" y="2.84" font-size="7.9" text-anchor="middle" fill="#1a1a1a" stroke="#1a1a1a" style="stroke-width:0.2px">37</text>
<text transform="translate(478.20,585.90) rotate(-45) scale(1,1.08)" x="0" y="2.84" font-size="7.9" text-anchor="middle" fill="#1a1a1a" stroke="#1a1a1a" style="stroke-width:0.2px">38</text>
<text transform="translate(488.55,585.90) rotate(-45) scale(1,1.08)" x="0" y="2.84" font-size="7.9" text-anchor="middle" fill="#1a1a1a" stroke="#1a1a1a" style="stroke-width:0.2px">39</text>
<text transform="translate(498.90,585.90) rotate(-45) scale(1,1.08)" x="0" y="2.84" font-size="7.9" text-anchor="middle" fill="#1a1a1a" stroke="#1a1a1a" style="stroke-width:0.2px">40</text>
<text transform="translate(289.2,606.0) scale(0.683,1)" x="0" y="0" font-size="10.3" font-weight="bold" text-anchor="middle" fill="#1a1a1a" stroke="#1a1a1a" style="stroke-width:0px">Time (months)</text>
<text transform="translate(49.6,465.5) rotate(-90) scale(0.645,1)" x="0" y="0" font-size="10.6" font-weight="bold" text-anchor="middle" fill="#1a1a1a" stroke="#1a1a1a" style="stroke-width:0px">Probability</text>
<text transform="translate(502.5,365.8) scale(1,1.08)" x="0" y="0" font-size="8" text-anchor="end" fill="#1a1a1a" stroke="#1a1a1a">Number of Events: 43</text>
<text transform="translate(502.5,375.0) scale(1,1.08)" x="0" y="0" font-size="8" text-anchor="end" fill="#1a1a1a" stroke="#1a1a1a">Median (95% CI) months: NR</text>
<text transform="translate(70.0,623.6) scale(1,1.08)" x="0" y="0" font-size="7.9" text-anchor="end" fill="#111" stroke="#111">At risk:</text>
<g transform="translate(82.00,620.00) rotate(-45) scale(1,1.08)"><text x="0" y="2.84" font-size="7.9" text-anchor="middle" fill="#1a1a1a" stroke="#1a1a1a" style="stroke-width:0.2px">  7</text><path transform="translate(-6.590,2.84) scale(0.003857,-0.003857)" d="M515 0V1237L197 1010V1180L530 1409H696V0Z" fill="#1a1a1a" stroke="#1a1a1a" stroke-width="51.8"/><path transform="translate(-2.197,2.84) scale(0.003857,-0.003857)" d="M515 0V1237L197 1010V1180L530 1409H696V0Z" fill="#1a1a1a" stroke="#1a1a1a" stroke-width="51.8"/></g>
<g transform="translate(92.35,620.00) rotate(-45) scale(1,1.08)"><text x="0" y="2.84" font-size="7.9" text-anchor="middle" fill="#1a1a1a" stroke="#1a1a1a" style="stroke-width:0.2px">  7</text><path transform="translate(-6.590,2.84) scale(0.003857,-0.003857)" d="M515 0V1237L197 1010V1180L530 1409H696V0Z" fill="#1a1a1a" stroke="#1a1a1a" stroke-width="51.8"/><path transform="translate(-2.197,2.84) scale(0.003857,-0.003857)" d="M515 0V1237L197 1010V1180L530 1409H696V0Z" fill="#1a1a1a" stroke="#1a1a1a" stroke-width="51.8"/></g>
<g transform="translate(102.70,620.00) rotate(-45) scale(1,1.08)"><text x="0" y="2.84" font-size="7.9" text-anchor="middle" fill="#1a1a1a" stroke="#1a1a1a" style="stroke-width:0.2px">  0</text><path transform="translate(-6.590,2.84) scale(0.003857,-0.003857)" d="M515 0V1237L197 1010V1180L530 1409H696V0Z" fill="#1a1a1a" stroke="#1a1a1a" stroke-width="51.8"/><path transform="translate(-2.197,2.84) scale(0.003857,-0.003857)" d="M515 0V1237L197 1010V1180L530 1409H696V0Z" fill="#1a1a1a" stroke="#1a1a1a" stroke-width="51.8"/></g>
<g transform="translate(113.05,620.00) rotate(-45) scale(1,1.08)"><text x="0" y="2.84" font-size="7.9" text-anchor="middle" fill="#1a1a1a" stroke="#1a1a1a" style="stroke-width:0.2px"> 07</text><path transform="translate(-6.590,2.84) scale(0.003857,-0.003857)" d="M515 0V1237L197 1010V1180L530 1409H696V0Z" fill="#1a1a1a" stroke="#1a1a1a" stroke-width="51.8"/></g>
<g transform="translate(123.40,620.00) rotate(-45) scale(1,1.08)"><text x="0" y="2.84" font-size="7.9" text-anchor="middle" fill="#1a1a1a" stroke="#1a1a1a" style="stroke-width:0.2px"> 02</text><path transform="translate(-6.590,2.84) scale(0.003857,-0.003857)" d="M515 0V1237L197 1010V1180L530 1409H696V0Z" fill="#1a1a1a" stroke="#1a1a1a" stroke-width="51.8"/></g>
<text transform="translate(135.95,619.10) rotate(-45) scale(1,1.08)" x="0" y="2.84" font-size="7.9" text-anchor="middle" fill="#1a1a1a" stroke="#1a1a1a" style="stroke-width:0.2px">97</text>
<text transform="translate(146.30,619.10) rotate(-45) scale(1,1.08)" x="0" y="2.84" font-size="7.9" text-anchor="middle" fill="#1a1a1a" stroke="#1a1a1a" style="stroke-width:0.2px">93</text>
<g transform="translate(156.65,619.10) rotate(-45) scale(1,1.08)"><text x="0" y="2.84" font-size="7.9" text-anchor="middle" fill="#1a1a1a" stroke="#1a1a1a" style="stroke-width:0.2px">9 </text><path transform="translate(0.000,2.84) scale(0.003857,-0.003857)" d="M515 0V1237L197 1010V1180L530 1409H696V0Z" fill="#1a1a1a" stroke="#1a1a1a" stroke-width="51.8"/></g>
<text transform="translate(167.00,619.10) rotate(-45) scale(1,1.08)" x="0" y="2.84" font-size="7.9" text-anchor="middle" fill="#1a1a1a" stroke="#1a1a1a" style="stroke-width:0.2px">87</text>
<text transform="translate(177.35,619.10) rotate(-45) scale(1,1.08)" x="0" y="2.84" font-size="7.9" text-anchor="middle" fill="#1a1a1a" stroke="#1a1a1a" style="stroke-width:0.2px">86</text>
<text transform="translate(187.70,619.10) rotate(-45) scale(1,1.08)" x="0" y="2.84" font-size="7.9" text-anchor="middle" fill="#1a1a1a" stroke="#1a1a1a" style="stroke-width:0.2px">82</text>
<text transform="translate(198.05,619.10) rotate(-45) scale(1,1.08)" x="0" y="2.84" font-size="7.9" text-anchor="middle" fill="#1a1a1a" stroke="#1a1a1a" style="stroke-width:0.2px">77</text>
<text transform="translate(208.40,619.10) rotate(-45) scale(1,1.08)" x="0" y="2.84" font-size="7.9" text-anchor="middle" fill="#1a1a1a" stroke="#1a1a1a" style="stroke-width:0.2px">77</text>
<text transform="translate(218.75,619.10) rotate(-45) scale(1,1.08)" x="0" y="2.84" font-size="7.9" text-anchor="middle" fill="#1a1a1a" stroke="#1a1a1a" style="stroke-width:0.2px">75</text>
<text transform="translate(229.10,619.10) rotate(-45) scale(1,1.08)" x="0" y="2.84" font-size="7.9" text-anchor="middle" fill="#1a1a1a" stroke="#1a1a1a" style="stroke-width:0.2px">72</text>
<g transform="translate(239.45,619.10) rotate(-45) scale(1,1.08)"><text x="0" y="2.84" font-size="7.9" text-anchor="middle" fill="#1a1a1a" stroke="#1a1a1a" style="stroke-width:0.2px">7 </text><path transform="translate(0.000,2.84) scale(0.003857,-0.003857)" d="M515 0V1237L197 1010V1180L530 1409H696V0Z" fill="#1a1a1a" stroke="#1a1a1a" stroke-width="51.8"/></g>
<text transform="translate(249.80,619.10) rotate(-45) scale(1,1.08)" x="0" y="2.84" font-size="7.9" text-anchor="middle" fill="#1a1a1a" stroke="#1a1a1a" style="stroke-width:0.2px">65</text>
<text transform="translate(260.15,619.10) rotate(-45) scale(1,1.08)" x="0" y="2.84" font-size="7.9" text-anchor="middle" fill="#1a1a1a" stroke="#1a1a1a" style="stroke-width:0.2px">64</text>
<text transform="translate(270.50,619.10) rotate(-45) scale(1,1.08)" x="0" y="2.84" font-size="7.9" text-anchor="middle" fill="#1a1a1a" stroke="#1a1a1a" style="stroke-width:0.2px">64</text>
<g transform="translate(280.85,619.10) rotate(-45) scale(1,1.08)"><text x="0" y="2.84" font-size="7.9" text-anchor="middle" fill="#1a1a1a" stroke="#1a1a1a" style="stroke-width:0.2px">6 </text><path transform="translate(0.000,2.84) scale(0.003857,-0.003857)" d="M515 0V1237L197 1010V1180L530 1409H696V0Z" fill="#1a1a1a" stroke="#1a1a1a" stroke-width="51.8"/></g>
<text transform="translate(291.20,619.10) rotate(-45) scale(1,1.08)" x="0" y="2.84" font-size="7.9" text-anchor="middle" fill="#1a1a1a" stroke="#1a1a1a" style="stroke-width:0.2px">60</text>
<text transform="translate(301.55,619.10) rotate(-45) scale(1,1.08)" x="0" y="2.84" font-size="7.9" text-anchor="middle" fill="#1a1a1a" stroke="#1a1a1a" style="stroke-width:0.2px">55</text>
<text transform="translate(311.90,619.10) rotate(-45) scale(1,1.08)" x="0" y="2.84" font-size="7.9" text-anchor="middle" fill="#1a1a1a" stroke="#1a1a1a" style="stroke-width:0.2px">54</text>
<text transform="translate(322.25,619.10) rotate(-45) scale(1,1.08)" x="0" y="2.84" font-size="7.9" text-anchor="middle" fill="#1a1a1a" stroke="#1a1a1a" style="stroke-width:0.2px">52</text>
<text transform="translate(332.60,619.10) rotate(-45) scale(1,1.08)" x="0" y="2.84" font-size="7.9" text-anchor="middle" fill="#1a1a1a" stroke="#1a1a1a" style="stroke-width:0.2px">46</text>
<text transform="translate(342.95,619.10) rotate(-45) scale(1,1.08)" x="0" y="2.84" font-size="7.9" text-anchor="middle" fill="#1a1a1a" stroke="#1a1a1a" style="stroke-width:0.2px">38</text>
<g transform="translate(353.30,619.10) rotate(-45) scale(1,1.08)"><text x="0" y="2.84" font-size="7.9" text-anchor="middle" fill="#1a1a1a" stroke="#1a1a1a" style="stroke-width:0.2px">3 </text><path transform="translate(0.000,2.84) scale(0.003857,-0.003857)" d="M515 0V1237L197 1010V1180L530 1409H696V0Z" fill="#1a1a1a" stroke="#1a1a1a" stroke-width="51.8"/></g>
<text transform="translate(363.65,619.10) rotate(-45) scale(1,1.08)" x="0" y="2.84" font-size="7.9" text-anchor="middle" fill="#1a1a1a" stroke="#1a1a1a" style="stroke-width:0.2px">29</text>
<text transform="translate(374.00,619.10) rotate(-45) scale(1,1.08)" x="0" y="2.84" font-size="7.9" text-anchor="middle" fill="#1a1a1a" stroke="#1a1a1a" style="stroke-width:0.2px">27</text>
<text transform="translate(384.35,619.10) rotate(-45) scale(1,1.08)" x="0" y="2.84" font-size="7.9" text-anchor="middle" fill="#1a1a1a" stroke="#1a1a1a" style="stroke-width:0.2px">23</text>
<text transform="translate(394.70,619.10) rotate(-45) scale(1,1.08)" x="0" y="2.84" font-size="7.9" text-anchor="middle" fill="#1a1a1a" stroke="#1a1a1a" style="stroke-width:0.2px">23</text>
<text transform="translate(405.05,619.10) rotate(-45) scale(1,1.08)" x="0" y="2.84" font-size="7.9" text-anchor="middle" fill="#1a1a1a" stroke="#1a1a1a" style="stroke-width:0.2px">23</text>
<text transform="translate(415.40,619.10) rotate(-45) scale(1,1.08)" x="0" y="2.84" font-size="7.9" text-anchor="middle" fill="#1a1a1a" stroke="#1a1a1a" style="stroke-width:0.2px">23</text>
<text transform="translate(425.75,619.10) rotate(-45) scale(1,1.08)" x="0" y="2.84" font-size="7.9" text-anchor="middle" fill="#1a1a1a" stroke="#1a1a1a" style="stroke-width:0.2px">22</text>
<text transform="translate(436.10,619.10) rotate(-45) scale(1,1.08)" x="0" y="2.84" font-size="7.9" text-anchor="middle" fill="#1a1a1a" stroke="#1a1a1a" style="stroke-width:0.2px">20</text>
<g transform="translate(446.45,619.10) rotate(-45) scale(1,1.08)"><text x="0" y="2.84" font-size="7.9" text-anchor="middle" fill="#1a1a1a" stroke="#1a1a1a" style="stroke-width:0.2px"> 5</text><path transform="translate(-4.394,2.84) scale(0.003857,-0.003857)" d="M515 0V1237L197 1010V1180L530 1409H696V0Z" fill="#1a1a1a" stroke="#1a1a1a" stroke-width="51.8"/></g>
<g transform="translate(456.80,619.10) rotate(-45) scale(1,1.08)"><text x="0" y="2.84" font-size="7.9" text-anchor="middle" fill="#1a1a1a" stroke="#1a1a1a" style="stroke-width:0.2px">  </text><path transform="translate(-4.394,2.84) scale(0.003857,-0.003857)" d="M515 0V1237L197 1010V1180L530 1409H696V0Z" fill="#1a1a1a" stroke="#1a1a1a" stroke-width="51.8"/><path transform="translate(0.000,2.84) scale(0.003857,-0.003857)" d="M515 0V1237L197 1010V1180L530 1409H696V0Z" fill="#1a1a1a" stroke="#1a1a1a" stroke-width="51.8"/></g>
<text transform="translate(468.85,618.20) rotate(-45) scale(1,1.08)" x="0" y="2.84" font-size="7.9" text-anchor="middle" fill="#1a1a1a" stroke="#1a1a1a" style="stroke-width:0.2px">5</text>
<text transform="translate(479.20,618.20) rotate(-45) scale(1,1.08)" x="0" y="2.84" font-size="7.9" text-anchor="middle" fill="#1a1a1a" stroke="#1a1a1a" style="stroke-width:0.2px">2</text>
<text transform="translate(489.55,618.20) rotate(-45) scale(1,1.08)" x="0" y="2.84" font-size="7.9" text-anchor="middle" fill="#1a1a1a" stroke="#1a1a1a" style="stroke-width:0.2px">2</text>
<text transform="translate(499.90,618.20) rotate(-45) scale(1,1.08)" x="0" y="2.84" font-size="7.9" text-anchor="middle" fill="#1a1a1a" stroke="#1a1a1a" style="stroke-width:0.2px">0</text>
<path d="M84,362.8 L99.2,362.8 H100.00 V365.00 H101.50 V367.00 H103.50 V369.50 L113.8,369.5 H116.00 V371.20 H118.00 V373.00 H120.00 V374.80 H122.50 V376.50 H126.00 V378.30 L136,378.3 H137.00 V380.20 H139.50 V382.00 H142.00 V383.10 L145,383.1 L145,386.2 L153.5,386.2 H155.60 V388.50 H156.55 V390.35 H157.50 V392.20 L161,392.2 L161,394.4 L172.5,394.4 L172.5,396.3 L178,396.3 L178,399.9 L187.7,399.9 L187.7,403.9 L197.2,403.9 L197.2,409.3 L211.8,409.3 L211.8,410.8 L219.5,410.8 H220.00 V412.45 H220.50 V414.10 L233.6,414.1 L233.6,417.2 L242,417.2 H244.00 V420.00 H245.00 V421.50 H246.00 V423.00 H247.00 V424.75 H248.00 V426.50 H249.25 V428.35 H250.50 V430.20 L273.5,430.2 L273.5,432.8 L278.8,432.8 L278.8,435.2 L283.5,435.2 L283.5,437.2 L291.6,437.2 H293.00 V439.50 H295.70 V442.20 H297.35 V444.20 H299.00 V446.20 L307.8,446.2 L307.8,448.8 L365.3,448.8 L365.3,453.1 L383,453.1 L383,458.4 L494,458.4" fill="none" stroke="#c6405f" stroke-width="1.15"/>
<line x1="96.5" y1="360.60" x2="96.5" y2="365.00" stroke="#a82a48" stroke-width="0.95"/><line x1="98.5" y1="360.60" x2="98.5" y2="365.00" stroke="#a82a48" stroke-width="0.95"/><line x1="104.5" y1="367.30" x2="104.5" y2="371.70" stroke="#a82a48" stroke-width="0.95"/><line x1="107.5" y1="367.30" x2="107.5" y2="371.70" stroke="#a82a48" stroke-width="0.95"/><line x1="112.5" y1="367.30" x2="112.5" y2="371.70" stroke="#a82a48" stroke-width="0.95"/><line x1="118.5" y1="370.80" x2="118.5" y2="375.20" stroke="#a82a48" stroke-width="0.95"/><line x1="130.5" y1="376.10" x2="130.5" y2="380.50" stroke="#a82a48" stroke-width="0.95"/><line x1="133.5" y1="376.10" x2="133.5" y2="380.50" stroke="#a82a48" stroke-width="0.95"/><line x1="135.5" y1="376.10" x2="135.5" y2="380.50" stroke="#a82a48" stroke-width="0.95"/><line x1="142.5" y1="380.90" x2="142.5" y2="385.30" stroke="#a82a48" stroke-width="0.95"/><line x1="160.5" y1="390.00" x2="160.5" y2="394.40" stroke="#a82a48" stroke-width="0.95"/><line x1="165.5" y1="392.20" x2="165.5" y2="396.60" stroke="#a82a48" stroke-width="0.95"/><line x1="179.5" y1="397.70" x2="179.5" y2="402.10" stroke="#a82a48" stroke-width="0.95"/><line x1="190.5" y1="401.70" x2="190.5" y2="406.10" stroke="#a82a48" stroke-width="0.95"/><line x1="194.5" y1="401.70" x2="194.5" y2="406.10" stroke="#a82a48" stroke-width="0.95"/><line x1="216.5" y1="408.60" x2="216.5" y2="413.00" stroke="#a82a48" stroke-width="0.95"/><line x1="240.5" y1="415.00" x2="240.5" y2="419.40" stroke="#a82a48" stroke-width="0.95"/><line x1="243.5" y1="415.00" x2="243.5" y2="419.40" stroke="#a82a48" stroke-width="0.95"/><line x1="271.5" y1="428.00" x2="271.5" y2="432.40" stroke="#a82a48" stroke-width="0.95"/><line x1="294.5" y1="437.30" x2="294.5" y2="441.70" stroke="#a82a48" stroke-width="0.95"/><line x1="312.5" y1="446.60" x2="312.5" y2="451.00" stroke="#a82a48" stroke-width="0.95"/><line x1="319.5" y1="446.60" x2="319.5" y2="451.00" stroke="#a82a48" stroke-width="0.95"/><line x1="327.5" y1="446.60" x2="327.5" y2="451.00" stroke="#a82a48" stroke-width="0.95"/><line x1="329.5" y1="446.60" x2="329.5" y2="451.00" stroke="#a82a48" stroke-width="0.95"/><line x1="331.5" y1="446.60" x2="331.5" y2="451.00" stroke="#a82a48" stroke-width="0.95"/><line x1="332.5" y1="446.60" x2="332.5" y2="451.00" stroke="#a82a48" stroke-width="0.95"/><line x1="334.5" y1="446.60" x2="334.5" y2="451.00" stroke="#a82a48" stroke-width="0.95"/><line x1="336.5" y1="446.60" x2="336.5" y2="451.00" stroke="#a82a48" stroke-width="0.95"/><line x1="338.5" y1="446.60" x2="338.5" y2="451.00" stroke="#a82a48" stroke-width="0.95"/><line x1="343.5" y1="446.60" x2="343.5" y2="451.00" stroke="#a82a48" stroke-width="0.95"/><line x1="345.5" y1="446.60" x2="345.5" y2="451.00" stroke="#a82a48" stroke-width="0.95"/><line x1="346.5" y1="446.60" x2="346.5" y2="451.00" stroke="#a82a48" stroke-width="0.95"/><line x1="349.5" y1="446.60" x2="349.5" y2="451.00" stroke="#a82a48" stroke-width="0.95"/><line x1="350.5" y1="446.60" x2="350.5" y2="451.00" stroke="#a82a48" stroke-width="0.95"/><line x1="353.5" y1="446.60" x2="353.5" y2="451.00" stroke="#a82a48" stroke-width="0.95"/><line x1="359.5" y1="446.60" x2="359.5" y2="451.00" stroke="#a82a48" stroke-width="0.95"/><line x1="361.5" y1="446.60" x2="361.5" y2="451.00" stroke="#a82a48" stroke-width="0.95"/><line x1="364.5" y1="446.60" x2="364.5" y2="451.00" stroke="#a82a48" stroke-width="0.95"/><line x1="375.5" y1="450.90" x2="375.5" y2="455.30" stroke="#a82a48" stroke-width="0.95"/><line x1="381.5" y1="450.90" x2="381.5" y2="455.30" stroke="#a82a48" stroke-width="0.95"/><line x1="383.5" y1="456.20" x2="383.5" y2="460.60" stroke="#a82a48" stroke-width="0.95"/><line x1="425.5" y1="456.20" x2="425.5" y2="460.60" stroke="#a82a48" stroke-width="0.95"/><line x1="427.5" y1="456.20" x2="427.5" y2="460.60" stroke="#a82a48" stroke-width="0.95"/><line x1="433.5" y1="456.20" x2="433.5" y2="460.60" stroke="#a82a48" stroke-width="0.95"/><line x1="439.5" y1="456.20" x2="439.5" y2="460.60" stroke="#a82a48" stroke-width="0.95"/><line x1="440.5" y1="456.20" x2="440.5" y2="460.60" stroke="#a82a48" stroke-width="0.95"/><line x1="442.5" y1="456.20" x2="442.5" y2="460.60" stroke="#a82a48" stroke-width="0.95"/><line x1="444.5" y1="456.20" x2="444.5" y2="460.60" stroke="#a82a48" stroke-width="0.95"/><line x1="447.5" y1="456.20" x2="447.5" y2="460.60" stroke="#a82a48" stroke-width="0.95"/><line x1="448.5" y1="456.20" x2="448.5" y2="460.60" stroke="#a82a48" stroke-width="0.95"/><line x1="450.5" y1="456.20" x2="450.5" y2="460.60" stroke="#a82a48" stroke-width="0.95"/><line x1="455.5" y1="456.20" x2="455.5" y2="460.60" stroke="#a82a48" stroke-width="0.95"/><line x1="457.5" y1="456.20" x2="457.5" y2="460.60" stroke="#a82a48" stroke-width="0.95"/><line x1="459.5" y1="456.20" x2="459.5" y2="460.60" stroke="#a82a48" stroke-width="0.95"/><line x1="461.5" y1="456.20" x2="461.5" y2="460.60" stroke="#a82a48" stroke-width="0.95"/><line x1="463.5" y1="456.20" x2="463.5" y2="460.60" stroke="#a82a48" stroke-width="0.95"/><line x1="465.5" y1="456.20" x2="465.5" y2="460.60" stroke="#a82a48" stroke-width="0.95"/><line x1="467.5" y1="456.20" x2="467.5" y2="460.60" stroke="#a82a48" stroke-width="0.95"/><line x1="473.5" y1="456.20" x2="473.5" y2="460.60" stroke="#a82a48" stroke-width="0.95"/><line x1="475.5" y1="456.20" x2="475.5" y2="460.60" stroke="#a82a48" stroke-width="0.95"/><line x1="489.5" y1="456.20" x2="489.5" y2="460.60" stroke="#a82a48" stroke-width="0.95"/><line x1="491.5" y1="456.20" x2="491.5" y2="460.60" stroke="#a82a48" stroke-width="0.95"/>
</svg></body></html>
